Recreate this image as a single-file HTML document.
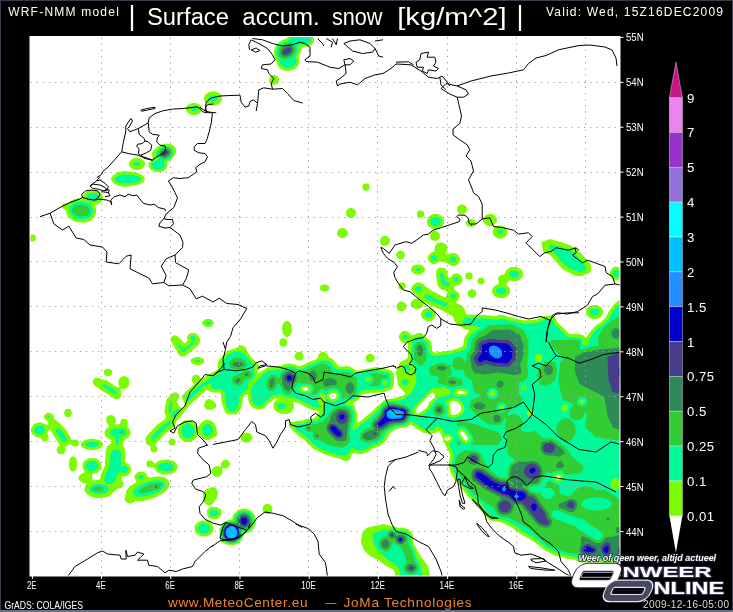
<!DOCTYPE html>
<html><head><meta charset="utf-8"><title>Surface accum. snow</title>
<style>
html,body{margin:0;padding:0;background:#000;}
body{width:733px;height:612px;overflow:hidden;}
svg{display:block}
text{font-family:"Liberation Sans",sans-serif;fill:#fff}
.ttl{font-size:23px}
.bar{font-size:27px}
.sm{font-size:12px}
.axl{font-size:10.6px}
.cbl{font-size:13.2px;letter-spacing:0.5px}
.org{font-size:13.6px;fill:#f08428}
.grd line{stroke:#a0a0a0;stroke-width:1;stroke-dasharray:1.3 4.85}
.brd path{fill:none;stroke:#000;stroke-width:1;stroke-linejoin:round}
</style></head><body>
<svg width="733" height="612" viewBox="0 0 733 612">
<rect width="733" height="612" fill="#000"/>
<rect x="0.5" y="0.5" width="732" height="611" fill="none" stroke="#3c3c50" stroke-width="1"/>
<rect x="0" y="610" width="733" height="2" fill="#6e6e8c"/>
<clipPath id="mc"><rect x="30" y="36.5" width="590" height="539.5"/></clipPath>
<rect x="30" y="36.5" width="590" height="539.5" fill="#fff"/>
<g clip-path="url(#mc)">
<g id="fills">
<path fill="#7cfc00" fill-rule="evenodd" d="M364.5,530 362,534 361.5,539.5 361,540 361,542.5 364,550 370,556 377.5,559.5 386,566 392.5,569 394.5,571.5 395.5,578.5 397,580 398,580 400,582 403,583 423,583 426,582 426.5,581 428,580 430,580 430.5,579.5 430.5,577 430,576.5 429.5,572 428.5,569.5 428.5,567.5 427,564.5 421.5,557.5 417,550 415,545.5 414,544.5 413,542 413,540 413.5,539.5 413,535.5 411.5,532.5 409,530 405,528 402.5,528 402,527.5 398,528 392.5,526 386.5,525 384,524 367.5,527.5ZM199,521.5 196,524 194.5,527 195,531.5 197,534 200,536 206,536.5 209,535.5 212.5,532.5 213.5,530 213.5,527 211.5,523.5 209,521.5 206,520.5 202,520.5ZM251,510.5 245,508.5 240.5,509 237.5,510.5 234,514 232.5,517 232.5,518.5 231.5,519.5 228.5,520 225,521.5 221,525.5 219.5,529 219.5,538 220,538.5 220,540 222,543 228,545 234.5,545 238,543.5 242,539.5 244.5,533.5 249,532.5 251,531.5 253,529.5 255.5,525 256,519.5 255.5,519 255.5,517 254,514ZM210,507 208,509 207,511 207,515 208.5,517.5 211,519 217,519 219,518 221.5,514.5 221.5,511.5 220.5,509.5 217,507 212,507 211.5,506.5ZM266.5,504 265,504.5 263,506.5 262.5,510 263,511.5 265,513.5 268.5,514 272,511.5 272.5,508 272,506.5 270.5,505 268.5,504ZM215,487.5 212.5,487 206,489.5 203.5,493.5 203,495 203.5,501 204.5,503 208,505.5 210.5,505.5 213.5,503 214,501.5 216.5,499 217.5,497 218,492.5 216.5,489ZM169,481 166.5,478.5 163.5,477 161.5,477 161,476.5 155,476.5 154.5,477 148.5,477.5 147.5,476.5 146.5,474 145,472.5 142.5,471.5 138,472 135.5,474 134.5,476 134.5,478 136.5,481.5 136,482.5 130.5,486 127.5,489 126,491.5 125.5,496.5 124.5,498.5 125,501 127.5,503 131,503.5 135.5,501 143,501 143.5,500.5 146,500.5 155.5,497.5 163.5,493 168,488.5 169.5,485ZM228.5,460.5 225.5,459.5 223,460.5 221,463.5 221,466.5 220.5,467 218,466 216.5,466 214,467 212.5,468.5 211.5,471 211.5,472.5 212.5,474.5 214,476 216.5,477 218,477 220,476 222.5,472.5 222,468.5 222.5,468 225.5,468.5 229,467 230,463.5ZM177.5,468.5 177.5,465.5 176,463 172.5,460.5 169,460 168.5,459.5 161,460 157,462 155.5,463.5 154.5,463.5 153,461.5 151.5,460.5 148.5,460.5 147.5,461 146.5,462.5 146.5,465.5 147.5,467 148.5,467.5 153.5,467 157,472 162.5,474.5 168.5,474.5 169,474 172.5,473.5 175,472ZM72,456.5 70.5,457.5 69.5,459.5 69.5,461 69,461.5 69,466.5 70.5,470.5 72,471.5 74,471.5 75.5,470.5 76.5,468.5 76.5,467 77,466.5 77,461.5 75.5,457.5 74,456.5ZM81,443.5 81,445.5 82.5,447.5 86.5,449.5 88.5,449.5 89,450 95,450 95.5,449.5 97.5,449.5 101.5,447.5 103,445.5 103,443.5 101.5,441.5 99,440 95.5,439.5 95,439 89,439 88.5,439.5 86.5,439.5 85,440.5 84,440.5 82,442ZM171.5,438.5 169,440 168.5,441 168.5,443.5 170,445 172.5,445.5 174,445 175.5,443.5 175.5,441 174,439ZM242.5,433.5 241.5,434.5 240.5,437 241,439.5 242.5,441.5 245,442.5 248,442.5 249.5,442 252,439.5 252.5,438 252,435.5 249.5,433 245,432.5ZM178,428.5 178,433.5 180,438 183.5,441 186.5,442 189.5,442 193,440.5 196,438 197,435.5 198,434.5 199,434.5 200.5,436.5 203.5,439 205.5,440 209,440 215.5,436.5 217,435 217.5,433.5 216.5,430 216.5,428 214.5,423.5 212.5,421.5 209,420 205.5,420 203.5,421 200.5,423.5 198.5,426.5 197.5,426.5 194.5,422.5 189.5,420 184.5,420.5 180.5,423.5ZM112,415 108.5,415.5 106.5,417.5 106,419 106.5,422.5 109.5,426 106,429 104.5,432 104.5,434 105.5,436.5 111,440 112,441 112,442 107.5,446 106,449 106,451 105.5,451.5 105.5,459 105,459.5 105,465.5 101.5,473 100,479 99,480 95.5,480 95,480.5 93.5,480.5 92.5,479.5 92,475 93,474 97,473 101,469.5 101.5,468 101.5,464.5 100,461.5 97,459 94,458 88,458.5 84,461.5 82.5,464.5 82.5,467.5 83.5,470 84.5,471 84.5,472.5 80.5,474.5 79,476 78.5,477.5 79,480 80.5,481.5 83.5,483 85,483 86,484 86,485 84.5,488 84.5,490 85.5,492.5 88,495 92,497 95.5,498 102.5,498 103,497.5 107,497 111,495 113.5,492 117.5,488.5 119.5,488.5 122,487.5 123.5,484.5 123,482 121.5,479.5 122,477.5 123,476.5 125.5,476.5 128,475.5 129.5,474 131,471 131,468 129.5,465 125,461.5 125,460 125.5,459.5 125.5,452 125,451.5 124.5,448 123,445.5 123,441 129,437 130.5,434 130.5,431.5 129,428.5 127.5,427 127.5,424.5 128,424 127,420 125.5,419 122.5,419 121,420 120,423.5 119,424.5 116,424.5 115,423.5 116,421.5 115.5,417.5ZM31,428.5 31,431.5 32,434 36,437 40.5,438 42,440 43.5,441 46.5,441 48,440 48.5,439 48.5,436 47.5,434.5 47.5,432.5 48,431 49,430 50,430 52,432 53.5,435.5 60,445 57.5,447.5 56.5,450 57.5,453 59,454 60.5,454 61,454.5 64,453.5 65.5,450.5 65,447 69,444.5 70.5,444 73.5,446.5 76.5,446.5 77.5,446 79,444 79,442.5 77.5,440 76.5,439.5 71.5,440 71,439.5 70,436.5 68.5,434.5 67,431 61.5,425 56.5,420.5 54,419 54,416 53.5,415 50.5,413 47.5,413 45.5,414 44,416 44.5,419 48.5,422 48.5,423 47,425 41.5,422.5 38,422.5 37.5,423 36,423 33.5,424.5ZM66.5,409 65.5,409.5 64,412.5 65,416 66.5,417 69.5,417 70.5,416.5 72,413.5 71,410 69.5,409ZM205.5,401 204,405.5 204.5,407 207,409.5 210,410 215.5,408 216.5,405.5 215.5,403 214,401.5 209.5,399 207,399.5ZM129.5,381 128.5,378.5 126,376.5 123.5,376 121,377 119.5,378.5 118.5,381 118.5,384 119.5,386.5 119,387.5 118,387.5 115,386 106,380 102,379.5 99.5,378 95.5,378 94.5,378.5 93,380.5 93,383.5 95.5,386.5 98,387.5 100,389.5 110,395.5 113,398 115,399 118.5,399 119.5,398.5 121,396.5 121,391 120.5,390.5 120.5,389 121,388.5 124.5,389 127,388 129,385.5ZM107.5,368.5 104.5,370 104,371 104,374 105,375.5 108.5,376.5 111.5,375 112,374 112,371 111,369.5ZM191,359.5 191,362.5 192,363.5 195.5,365 199.5,365 203,363.5 204,362.5 204,359.5 203,358.5 199.5,357 195.5,357 192,358.5ZM370,353.5 367.5,354.5 366.5,355.5 365.5,358 366.5,361 370,362.5 373,361.5 374.5,359.5 374.5,356.5 373,354.5ZM299,351.5 296.5,352.5 295.5,353.5 294.5,356.5 295.5,359 297.5,360.5 301,360.5 302.5,359.5 303.5,357.5 303.5,355.5 302,352.5ZM282.5,338 280,339.5 279.5,340.5 279.5,344 280,345 282,346.5 285,346.5 286,346 287,344.5 287,341 285,338.5ZM196,333.5 195,333 191,333 189,334 187,337 187.5,340.5 187,341.5 185,343 184,343 181.5,340 176.5,335.5 173.5,335.5 171.5,337 171,338 171,341.5 176.5,350.5 177.5,353 180,356 181,356.5 184.5,356.5 194,349 199,344 200,342 200,339 198.5,336ZM287.5,321 286.5,321 284,322.5 282.5,325 282.5,326.5 282,327 282.5,333 285.5,337 287.5,337 289.5,336 291,334 292,331 291.5,325 290,322.5ZM202,322.5 202.5,324.5 206,327 210,327 211.5,326.5 214,323.5 213.5,321.5 211.5,319.5 210,319 206,319 204,320ZM424,309 422.5,310.5 421,313.5 421,316 422.5,318.5 426.5,321 430.5,321 433.5,319.5 436,316 436,313.5 434,310 431,308 426.5,308 425,309ZM589,306.5 587,308.5 586,310.5 586,313.5 587,315.5 589,317.5 592.5,319 596.5,319 600,317.5 602,315.5 603,313.5 603,310.5 602,308.5 600,306.5 596.5,305 592.5,305ZM400.5,301.5 399,302 397,304 396.5,307.5 397,309 399,311 402.5,311.5 406,309 406.5,305.5 406,304 404.5,302.5 402.5,301.5ZM472,289 469.5,290 468.5,291 467.5,293.5 468.5,296.5 472,298 475,297 476.5,294 475.5,290.5ZM319.5,287.5 320,289.5 323,291.5 326,291.5 328,290.5 329.5,288.5 329,286.5 326,284.5 323,284.5 321,285.5ZM399.5,283 398.5,284.5 398.5,287.5 399,288.5 400.5,289.5 403.5,289.5 404.5,289 405.5,287.5 405.5,284.5 405,283.5 403.5,282.5 400.5,282.5ZM480.5,277.5 478,279 477.5,280 477.5,282.5 479,284 481.5,284.5 483,284 484.5,282.5 484.5,280 483,278ZM466.5,273 465,276 466,278.5 467.5,279.5 470.5,279.5 471.5,279 472.5,277.5 472.5,274.5 472,273.5 470.5,272.5 467.5,272.5ZM145.5,438.5 146,443.5 147.5,445 149.5,445.5 150.5,446.5 150.5,450.5 152,452 153.5,452.5 156,452 157.5,450.5 157.5,448 155,444.5 166.5,432.5 172,428.5 175,425.5 176.5,421 182.5,414.5 190,404.5 206.5,390 207.5,390 209.5,391.5 213,392.5 220,392.5 221,393.5 221.5,401.5 224,409.5 225.5,412.5 227,414 228.5,414 229,414.5 236,414.5 238.5,412 241.5,407.5 243,398 246,394.5 247,394.5 248,395.5 248.5,401 250,404.5 253.5,408 256,409 259.5,409.5 260,409 263.5,408.5 264.5,408 269,403 271.5,401.5 274,399 275,398.5 277.5,398.5 278,399 274.5,402 273.5,404 273.5,408 275.5,411 280.5,413.5 286.5,414 290.5,412.5 293.5,409 294,405 293,403 294,402 299.5,403.5 302.5,405.5 313,410.5 315,410.5 318.5,411.5 319,412.5 318,414.5 314.5,418 311.5,419 306,419 303.5,420.5 299.5,420.5 299,421 295.5,421 295,421.5 290.5,422 289,423.5 289,426.5 297.5,435 304.5,440 313.5,449 324,454 336,458 339.5,458.5 344,461 347,461 350,459.5 351,456 352,454.5 354,453 357.5,454 362.5,454 363,453.5 364.5,453.5 368,452 373.5,448 376.5,447.5 380,446 386.5,440 389,434.5 393.5,430.5 397.5,428.5 404.5,427.5 407.5,426.5 409.5,425 411.5,425 423.5,433 425.5,433 426,433.5 433,433.5 433.5,433 435.5,433 437,431.5 439,431 441.5,435 441.5,436 443.5,439.5 444,442 450,454 450,458 449,461 449,467 451,473.5 452,474.5 453,477 467,495.5 471.5,500 478.5,505 480.5,509.5 486,516.5 489.5,520 493,521 500.5,522 511,527 522,535 525.5,536.5 533,541 546.5,551.5 548.5,552 555.5,556 560.5,556.5 568,559 574,559.5 578.5,562 581,562 581.5,562.5 602.5,562.5 603,563 607,563.5 610.5,562.5 621,562.5 621.5,562 623.5,562 627,559.5 628,557 629.5,555.5 631.5,555 633,553.5 633,551.5 633.5,551 633.5,426.5 634,426 634,402.5 636,399 636.5,394 637,393.5 637,350.5 636.5,350 636,345 633.5,341 633.5,299 633,298.5 633,296.5 631.5,295 628.5,295 616,302.5 613,305.5 609,311 606,317 600.5,322.5 596.5,325 591.5,330 586,337.5 582,334.5 579.5,334.5 579,334 569.5,334 568.5,333.5 566.5,331 557.5,322.5 555,317.5 553.5,316 551.5,316 551,315.5 544,316 536,319.5 534,319.5 533.5,320 523.5,320.5 523,320 518.5,319.5 518,319 508.5,317 502.5,315 498.5,315 497,316 492,316 491.5,315.5 487,315.5 486.5,315 467,314.5 465.5,313 465,310 463.5,307.5 460.5,305 458,304 456,302 458.5,299.5 459.5,297.5 459.5,294.5 458.5,292.5 456,291 454,289 454.5,287 456,285.5 458,285.5 461.5,283 462.5,281 462.5,278 461.5,276 458,273.5 455,273.5 453,274.5 450,278 449,278 448,276.5 447.5,273 446,269.5 444.5,268 440,267.5 438.5,268 437,269.5 436,272 436,277 436.5,277.5 437,282.5 438,286 440,288.5 443,290 445.5,290.5 447.5,292 446.5,294.5 446.5,296 445.5,297 444,297 433,291.5 425,286 423,284 420,282.5 417,282.5 414,284 412.5,285.5 411.5,288 411.5,290 412.5,292.5 416,295 418,297 418,298 417,299 415,299 413,300 411,302 410.5,304.5 411,306 413,308 415.5,309 418.5,309 422,307.5 423.5,305 423.5,303.5 424.5,302.5 425.5,302.5 428.5,304.5 435,307.5 436,307.5 452.5,316 453.5,317.5 454,320.5 456.5,324 459,325 463,328.5 466.5,329.5 468.5,329.5 469,330 469,331 464.5,337.5 463,346 460.5,347.5 450.5,350.5 445.5,351 445,351.5 442,351.5 441.5,352 438.5,352 438,352.5 435,352.5 433.5,352 432,350.5 432,346 431.5,345.5 431.5,343 431,342 421.5,333 418,333 413,335 411,335 408.5,332 406.5,331 403.5,331 401.5,332 399,335.5 399,338.5 401.5,342 403.5,343 407.5,343 408,343.5 408,357.5 406.5,359 401,361.5 399.5,363 397,370 396,371.5 396,374 396.5,374.5 396.5,377.5 397,378 398,385.5 405.5,393.5 403.5,395.5 399,397 397.5,397 393.5,398.5 388.5,399 383.5,400.5 371.5,412 359.5,422 358,422.5 357,421.5 357,419.5 357.5,419 357,413.5 355,407.5 352.5,403.5 357.5,400.5 363,394 368.5,393.5 369,393 383,392.5 383.5,392 385.5,392 387.5,390.5 391,389.5 393,387.5 394,384 394,375 393.5,374.5 393.5,373 391,370.5 383.5,368 378.5,367.5 378,367 372,367.5 371.5,368 362.5,369.5 360.5,370.5 356.5,370.5 355,370 350,366.5 347.5,366.5 347,366 345.5,366 345,366.5 340,366.5 338.5,366 332.5,359 329,357.5 327.5,354.5 326,353 324,352 322,352 320.5,352.5 318.5,354.5 318,357.5 316,359.5 309,362 300.5,366 297.5,366 295.5,364.5 291.5,364 291,363.5 285.5,364 285,364.5 283.5,364.5 281,366 276,366 275.5,366.5 273,366.5 272.5,367 270,367 266.5,368 258.5,373.5 257.5,372.5 257.5,371 259.5,368.5 259.5,366 259,365 258,364.5 250.5,356.5 249,353.5 247,351.5 245.5,347 242.5,345.5 240.5,345.5 235,348.5 228,350.5 220.5,358 218,362 218,369 217,370 206.5,375.5 204.5,377.5 201.5,379 200,377.5 199.5,376 198,375 196.5,375 196,374.5 193.5,375.5 192.5,376.5 191.5,379.5 192.5,382 194,383.5 194,384.5 186,391.5 181.5,396.5 181.5,398 182.5,399 184.5,403.5 184.5,406.5 183,408 181,408 179,406 178,403.5 177,402.5 177,400.5 179.5,397 178.5,394 176.5,392.5 173.5,392.5 172.5,393 167,398.5 166,401 165.5,405.5 165,406 165,409.5 164.5,410 164.5,413 166,416 165.5,418.5 157,425 148,434.5ZM558,475.5 560.5,477 560.5,478 558.5,479.5 556.5,479 555.5,477.5ZM444.5,438 447,436.5 448.5,436.5 450,437.5 450.5,439 448.5,440.5 446.5,440.5 444.5,439.5ZM461.5,431 464,432.5 467.5,437.5 468,439.5 466.5,441 464,439.5 460.5,434.5 460,432.5ZM452,401 456.5,401.5 458.5,402.5 460.5,405 461.5,407.5 461,410.5 458.5,413.5 454,415 452,415 450.5,413.5 450.5,406.5 449.5,403ZM329.5,395 331.5,393 334.5,393 336.5,395 336.5,397 334.5,399 331.5,399 329.5,397ZM433,392.5 434.5,394 435,397 429,402.5 427.5,406.5 424.5,409.5 418.5,413.5 416.5,413 415.5,412 415.5,410.5 419,405.5 431.5,393ZM456.5,392.5 459,391 463,391 465.5,392.5 463,394 459,394ZM302.5,388.5 304.5,387.5 306.5,387.5 308,388 308.5,389.5 306.5,390.5 304,390.5 302.5,389.5ZM520,268.5 516.5,267 511.5,267 510,267.5 506,270.5 505,273 503.5,274.5 501,275 499,276.5 498,279 499,283.5 494.5,286 492,289.5 492,292.5 494.5,296 498.5,298 503.5,298 507,296.5 509,294.5 510,292.5 510,289.5 509,287.5 506.5,285 506.5,284 509.5,280.5 511,280.5 511.5,281 516.5,281 520,279.5 522,277.5 523,275.5 523,272.5 522,270.5ZM615,266.5 613,267.5 611,269.5 610,272 610,275 611,277.5 613,279.5 615,280.5 617,280.5 618.5,280 621,277.5 622,275 622,272 621,269.5 618.5,267ZM411.5,267.5 411,269 411.5,271.5 413,273 416,274.5 420,274.5 423,273 424.5,271.5 425,270 424.5,267.5 423,266 420,264.5 416,264.5 413,266ZM400.5,250.5 398,251.5 397,252.5 396,255 397,258 400.5,259.5 403.5,258.5 405,255.5 404,252ZM428,256.5 428,259.5 429,261.5 432.5,264 435.5,264 439.5,261.5 442.5,261.5 443,262 445,262 451.5,266 454.5,266 457.5,264.5 459,263 460,260.5 460,258.5 459,256 457.5,254.5 454.5,253 451.5,253 450,254 447,254.5 446,253.5 446,252.5 447.5,249.5 447,246 445.5,244 442,242.5 439.5,242.5 437,243.5 435,246 434.5,251 433.5,252 430.5,253ZM541.5,242 541.5,245 543.5,252 544.5,253 548,254 550.5,255.5 563,269.5 575.5,276 582,276 586,274 589,273.5 591,270.5 591,266 590,263.5 586,258.5 575,247.5 568,244.5 563,243 561.5,242 556.5,241 552.5,239.5 550.5,239.5 550,239ZM384,236 382.5,236.5 380.5,238.5 380,242 380.5,243.5 382.5,245.5 386,246 389.5,243.5 390,240 389.5,238.5 388,237 386,236ZM31.5,234.5 29.5,236 29,237.5 29.5,240 31.5,241.5 34,241.5 35.5,240 36,238.5 35.5,236 34,234.5ZM434.5,230.5 432.5,231.5 430.5,233.5 430,237 430.5,238.5 432.5,240.5 436.5,241 439.5,238.5 440,235 439.5,233.5 438,232 435.5,230.5ZM341.5,228 339,229 338,230 337,233.5 338,236 339,237 341.5,238 343.5,238 345,237.5 347.5,235 348,232.5 347.5,231 345,228.5ZM496.5,226 494,228 492.5,231 492.5,233 494,236 498,238.5 502,238.5 505,237 507,234.5 507.5,233 507.5,231 505.5,227.5 502,225.5 498,225.5ZM466,221.5 465.5,223 466,224.5 467.5,226 470,227 472,227 474.5,226 476.5,223.5 476,221.5 474.5,220 472,219 468.5,219.5ZM488.5,214 486,215 484,217 483,219 483,221 483.5,222.5 486,225 488.5,226 491.5,226 494,225 496.5,222.5 497,219 496,217 494,215 491.5,214ZM434,214 431,215 428.5,217 427,220 427,223 428,225.5 429.5,227 433,229 436.5,229.5 441,227.5 443,225.5 444,223 444,220 442.5,217 441,215.5 437.5,214ZM418,211 417,212.5 417,215.5 417.5,216.5 419,217.5 422,217.5 423,217 424,215.5 424,212.5 423.5,211.5 422,210.5 419,210.5ZM350,208 348.5,208.5 346.5,210.5 346,214 346.5,215.5 348.5,217.5 352,218 355.5,215.5 356,212 355.5,210.5 354,209 352,208ZM461,204.5 459.5,205 457.5,207 457,210.5 457.5,212 459.5,214 463,214.5 466.5,212 467,208.5 466.5,207 465,205.5 463,204.5ZM100,192 98.5,191 95,190 89,190.5 86,192 84.5,193.5 83,196 83,197 81.5,198.5 76.5,198.5 76,199 74.5,199 71,200.5 68.5,203 63.5,203.5 62,205 62,207 62.5,208 66,211 66.5,213.5 68,216.5 70.5,219 73.5,221 78.5,222.5 85.5,222.5 89,221.5 91,220.5 94,217.5 96,213.5 96,209 95,206 96.5,204.5 100,203 102,201 103,199 103,196ZM363.5,184 362.5,185.5 362.5,188.5 363,189.5 364.5,190.5 367.5,190.5 368.5,190 369.5,188.5 369.5,185.5 369,184.5 367.5,183.5 364.5,183.5ZM111,178.5 111.5,181 115,184 118.5,186 123,186.5 123.5,187 130,186.5 130.5,186 139,184.5 143.5,182 145,179.5 144,176.5 139,173.5 136,172.5 131,172 130.5,171.5 127,171.5 126.5,171 123.5,171 123,171.5 118.5,172 113,175.5ZM130,161 129,163 129,165 130,167 132.5,169 135,170 139,170 142.5,168.5 145,165 145,163 144,161 142.5,159.5 139,158 135,158 132.5,159ZM173,145 170.5,144 167.5,144 167,143.5 163,144 157,147 153,151 152,153 152.5,159 150,161 148.5,163.5 148.5,166.5 151,170 155.5,172 160.5,172 163.5,171 166.5,168.5 167.5,166.5 167.5,162 170,160.5 174,156.5 176,152 175.5,147.5ZM187,106 186,108 186,110 187,112 189.5,114 192,115 196,115 199.5,113.5 202,110 202,108 201,106 199.5,104.5 196,103 192,103 189.5,104ZM205,95 204,97 204,100 205,102 208,104.5 210.5,105.5 215.5,105.5 219,104 221,102 222,100 222,97 221,95 219,93 215.5,91.5 210.5,91.5 208,92.5ZM273,75 271.5,75.5 269.5,77.5 269,81 269.5,82.5 271.5,84.5 275,85 278.5,82.5 279,79 278.5,77.5 277,76 275,75ZM311.5,35 308,33.5 303.5,33 303,32.5 298,32.5 297.5,33 293,33.5 289,35.5 286,39 283.5,39.5 280.5,41 276.5,44.5 275,47 274,50.5 274,55 274.5,55.5 275,59 276.5,61 277,64 278,66 281,69 284.5,70.5 289,71 295,69 298,66 299.5,61.5 298.5,56 300.5,52 301.5,48.5 302.5,47.5 308,46.5 311.5,45 314,42 314,38Z"/>
<path fill="#00fa9a" fill-rule="evenodd" d="M372.5,534 372.5,537.5 373,538 373.5,542.5 374.5,545 377.5,548.5 378.5,550.5 388.5,560.5 395,564 398,566.5 402,579.5 403,580 422.5,580 423.5,579.5 423.5,577.5 421,569 420.5,565 416,557 414.5,551 410.5,543 410.5,536.5 410,535 408,532.5 404.5,530.5 396.5,530.5 394,529 391.5,528.5 391,529 389.5,529 387,530.5 382.5,530ZM198,526.5 197.5,527.5 198,530.5 200,532.5 202,533.5 206,533.5 208,532.5 210.5,529.5 210,526.5 208,524.5 206,523.5 202,523.5 200,524.5ZM250.5,512.5 249,511.5 245.5,510.5 240.5,511 238,512.5 236,514.5 234.5,517 234,519.5 232.5,521 228,521.5 224.5,523.5 223,525 220.5,530 220.5,535 222,539 225.5,542.5 229.5,544 233.5,544 238.5,541.5 241.5,538 242.5,535 242.5,533 244,531.5 249,530.5 251,529 253.5,525 254,519 252.5,515ZM209.5,511.5 209.5,514.5 212,516.5 212.5,516 216.5,516 218.5,514 218.5,512 216.5,510 213,510 212,509.5ZM89,488.5 89.5,490.5 91.5,492.5 95.5,494 102,494 102.5,493.5 104,493.5 106.5,492.5 109,489.5 108.5,487.5 106,485 102.5,484.5 102,484 95.5,484 95,484.5 93.5,484.5 91.5,485.5ZM165,483 163,481 161.5,480.5 153.5,480.5 144.5,483 137,487 133.5,490.5 133,491.5 133,494 136.5,496.5 144,496.5 144.5,496 147,496 149,495 150.5,495 159.5,491.5 163.5,488 165,485.5ZM138.5,476 138.5,478 140,479 142,479 143.5,478 143.5,476 142,475 140,475ZM158,466 158.5,469 162,471 164,471 164.5,471.5 170,471 173.5,469 174,468 173.5,465 170,463 168.5,463 168,462.5 162,463 158.5,465ZM86,464 85.5,465 86,468 88,470 90,471 94,471 96,470 98.5,467 98,464 96,462 94,461 90,461 88,462ZM118,449.5 113,450 111.5,451.5 110.5,454 109.5,466 104.5,476.5 104.5,481 106,483.5 107,484 111,484 112.5,483.5 114.5,481.5 118.5,472.5 120,471 121,471 122,472.5 125,473.5 126,473 128,470.5 128,468.5 126,466 125,465.5 121.5,466 121,465.5 121.5,454.5 120.5,451.5ZM84.5,444.5 85,445.5 89,447 95.5,447 99,445.5 99.5,444.5 99,443.5 95.5,442 89,442 86,443ZM57,428.5 56,429.5 56,432 62,441 63.5,442 65.5,442 66.5,441 66.5,438.5 60.5,429.5 59,428.5ZM124,428.5 122.5,428.5 122,428 120.5,428.5 115,428.5 112,429.5 110.5,430.5 110,431.5 110.5,434.5 115.5,437 116,438 116,443.5 116.5,444.5 117.5,445 118.5,444.5 119,443.5 119,438 121.5,436 124.5,435.5 126.5,433 126,430.5ZM34.5,428 34,429 34.5,432 38,434.5 42.5,434 44,433 45,431 44.5,428 42.5,426 41,425.5 38,425.5ZM206,424 203,426.5 202,430.5 203,433.5 205,435.5 206,436 209,436 212,433.5 213,429.5 212,426.5 210,424.5 209,424ZM187,423.5 184,425 181.5,429 181.5,433 184,437 187,438.5 189,438.5 193,436 194.5,433 194.5,429 193.5,427 191,424.5 189,423.5ZM171.5,422 170.5,421 169,421 159.5,428 152,436 151.5,438.5 152.5,439.5 155,439 164.5,429 171,424ZM48.5,416 47.5,417 48.5,418 49.5,418 50.5,417 49.5,416ZM177,409 172.5,412.5 171,415 171,417 172,418 174.5,417.5 179,412.5 179.5,411ZM277.5,405 277.5,407 279,408.5 280.5,409 284,408.5 285,408 285.5,407 285,404 282.5,403 279,403.5ZM171,402 170,402.5 169,405.5 168.5,411 169.5,412.5 171,412.5 171.5,412 171.5,409.5 172,409 172.5,403.5 172,402.5ZM103,384 102.5,385.5 103.5,387 113.5,393.5 116.5,394 117,392.5 116,391 106,384.5ZM403,379.5 401.5,382 402.5,384.5 403.5,385 406.5,385 407.5,384.5 408.5,382.5 407.5,379.5 406.5,379 404,379ZM404,365.5 403,367 403,370 403.5,371 405,372 408,372 409,371.5 410,370 410,367 409.5,366 408,365 405,365ZM195,361 196,362 199,362 200,361 199,360 196,360ZM252.5,363 248,359 246.5,356 244.5,354 239.5,351.5 235.5,351.5 229,354 224,359 221.5,362.5 221.5,367 222,368.5 220.5,372 219,373.5 209,378.5 207,380.5 196.5,387.5 186.5,396.5 186,397.5 186,400 187,401 188,401 203,387.5 206.5,385.5 208,384 210,383.5 211,385 211,387.5 212,388.5 215,389.5 221.5,389 224,391.5 224.5,392.5 224.5,397 225,397.5 225,402 228,410 229.5,411 234,411.5 236.5,409 238.5,405.5 239,399.5 240,396 244,391.5 248,389.5 247.5,383 249,381.5 250,381.5 252.5,380 254.5,377 254,367ZM194,336 191.5,336 190.5,337 190.5,339 192.5,341.5 188,346 184,349 183,349 181,347 178.5,343 177,343.5 178.5,346.5 182.5,352 184,352 193,344.5 193.5,343.5 193.5,341 195.5,339 195.5,337ZM404.5,334.5 403,335.5 402.5,337.5 403.5,339 405.5,339.5 407,338.5 407.5,336.5 406.5,335ZM205,323 206.5,324.5 209.5,324.5 210.5,324 211,323 210.5,322 209.5,321.5 206.5,321.5ZM424.5,314.5 425.5,316.5 427,317.5 430,317.5 431.5,316.5 432.5,314.5 431.5,312.5 430,311.5 427,311.5 425.5,312.5ZM589.5,311.5 590,313.5 591.5,315 593,315.5 597.5,315 599.5,312.5 599,310.5 597.5,309 596,308.5 593,308.5 591.5,309ZM630,551 630,429.5 630.5,429 630.5,423.5 631,423 631,401 633,398.5 633,397 633.5,396.5 633.5,391 634,390.5 634,353.5 633.5,353 633.5,347.5 633,347 633,345.5 630,341.5 630,299.5 629.5,299 626.5,300 616.5,306.5 611.5,313.5 609,318.5 601.5,326 597.5,328.5 592.5,334 590.5,337 588.5,343.5 586,345.5 583.5,345.5 583,345 582.5,339 581,337.5 578,337.5 577.5,337 567,337 562.5,331.5 554.5,324.5 552.5,320 551,319 546,319 536.5,323 524,324 523.5,323.5 521.5,323.5 521,323 519,323 518.5,322.5 516.5,322.5 516,322 508.5,320.5 502.5,318.5 500.5,318.5 499.5,319.5 493,319.5 492.5,319 488,319 487.5,318.5 466,318 464.5,318.5 462.5,320.5 462.5,323 464.5,325.5 466,326 475.5,326 476,326.5 478,326.5 479.5,327.5 478.5,329 471.5,334 468.5,338 466.5,348 464,350 461,350.5 456,352.5 454.5,352.5 450.5,354 441.5,355 441,355.5 434.5,356 430,354 429,352.5 429,347.5 428.5,347 428.5,344 428,343 420.5,336.5 416.5,337 414.5,338 414,340.5 411.5,344 411.5,347 411,347.5 411,359 412,362 415,365.5 415,368 414.5,368.5 414,372 416.5,378.5 416.5,381.5 413,390 409,395 406,398 404,399 397,401 389,401 383.5,403 381,405.5 379.5,408.5 372,416 354,430.5 352.5,429.5 353,424.5 354.5,421 354.5,414 354,413.5 354,412 352,407.5 350,405.5 345,404 344,402.5 345,401.5 346.5,401.5 355,398.5 358,395.5 359.5,392 360.5,391 365.5,390.5 366,390 369,390 369.5,389.5 383,389 384.5,388 389,387 390.5,385.5 390.5,378.5 391,378 390.5,377.5 390.5,374.5 390,373.5 388,372.5 379.5,371 379,370.5 372.5,370.5 372,371 363,372.5 360.5,374 356.5,374 353.5,373 351,370.5 349,369.5 338,369.5 336,368.5 333.5,366 332.5,364 329,361 327.5,360.5 321,360.5 300,369.5 298,369.5 295.5,367.5 293,366.5 286,366.5 283.5,367.5 281,369.5 275,369.5 274.5,370 268,371 263.5,374 254,383.5 250.5,389 250.5,391 251.5,394 251.5,399.5 252,401 254.5,404.5 258,406 260.5,406 263.5,404.5 266,401 269,399 272.5,395.5 273.5,395 276,395 276.5,394.5 280.5,394.5 281,395 282.5,395 286.5,397.5 290.5,397.5 292.5,396.5 294,397 295.5,398.5 300,400 305,403 315,407.5 319,407.5 320.5,408 322.5,407 324.5,407 325.5,408.5 324,412 320,417.5 317,420.5 314,421.5 307,421.5 303,424 295,424.5 293.5,425 293.5,426.5 298.5,431.5 305,436 316,446.5 325.5,451 337.5,455 346.5,456 349.5,452.5 351.5,447.5 357,450.5 363,450.5 368,448 370,446 377,444 381,441.5 384,438 385.5,433.5 389.5,430 396.5,426.5 399,426.5 399.5,426 402,426 405.5,425 407.5,424 410.5,421 412.5,421.5 424,429.5 425.5,430 433.5,430 435.5,427.5 438.5,425 443,430 444,433 445,434 450.5,434.5 453,437 453,440 450.5,442.5 449,443 449,444.5 453.5,453.5 453.5,457 452,461.5 452,466.5 452.5,467 453,470.5 454.5,473.5 468.5,492.5 474.5,498.5 480,502 482,504 482.5,506 484,508.5 490.5,516.5 492.5,517.5 497.5,518 499.5,519 504.5,520 513.5,524.5 524.5,532.5 534,537.5 537.5,540 544.5,546.5 549.5,549.5 552,550 556,552.5 560,553 566,555.5 571,556 571.5,556.5 574.5,556.5 579.5,559.5 583,559.5 583.5,560 601.5,560 604,561 609,561 611.5,560 622,560 625.5,557.5 627,554.5 627,553.5ZM614.5,478 617.5,478.5 620,481 620.5,482.5 620.5,484.5 619.5,487.5 618.5,489 617,490 614,489.5 611,486 610.5,484.5 611,481ZM553,476.5 554,475 556,473.5 560.5,473.5 563,476.5 563,479 562.5,480 560.5,481.5 556,481.5 553,479ZM459.5,429 462.5,428.5 465,430 469.5,436 470.5,438 470.5,440.5 468.5,443 465.5,443.5 463,442 458.5,436 457.5,434 457.5,431.5ZM527,411.5 529.5,409.5 532,409.5 533.5,410.5 534.5,413.5 533,416 532,416.5 529,416.5 527.5,415.5 526.5,413.5ZM501,405 502.5,405 504,406.5 504,408.5 502.5,410 500.5,410 499,408.5 499.5,406ZM563.5,404.5 566.5,404.5 568,406 568,408 566,411.5 563.5,411.5 562.5,411 561,408.5 561.5,406.5ZM582,399.5 584.5,401 584.5,402 582.5,403.5 580.5,403 579.5,401.5ZM452.5,398 457,398.5 460,400 463,403.5 464.5,408 464,411 463,413 460,416 454,418 450,417.5 447,415.5 446.5,414.5 447.5,412.5 447.5,407 445.5,403 445.5,401.5 447,400 450,398.5 452,398.5ZM321,392.5 323,392.5 325,394.5 326,396.5 326,401.5 325.5,402 325.5,403.5 323,407 321.5,407 319,404.5 318,401.5 318,397.5 319.5,394ZM491.5,390.5 493.5,390.5 495.5,392.5 495.5,394.5 493.5,396.5 491.5,396.5 489.5,394.5 489.5,392.5ZM331,390.5 335,390.5 336,391 339,394.5 339,397.5 338,399.5 335.5,401.5 334,401.5 333.5,402 331,401.5 329,400.5 326.5,397.5 327,394ZM453.5,391 455,389.5 458.5,388.5 464,388.5 467,389.5 468.5,391 468.5,394 466,396 458.5,396.5 458,396 456,396 453.5,394ZM450,390.5 450.5,392.5 448.5,395 445.5,396.5 439,397 438,398.5 431.5,404.5 430.5,407.5 426,412 419.5,416.5 416.5,416.5 413,414 412.5,410 415,406 431.5,389 437,387 443,387 446.5,388ZM299,389 301.5,386 303,385.5 308,385.5 309.5,386 311.5,388 311.5,390 309.5,392 308,392.5 302.5,392.5 300.5,391.5ZM525,385 526,386 526,387.5 524.5,390 522.5,390.5 522,390 522,386 523,385ZM382.5,382.5 384,381 386,380.5 388.5,382.5 388.5,384 386.5,385.5 385,385.5 382.5,383.5ZM367.5,377 369.5,377.5 371,379 371,380 368.5,382 366.5,381.5 365,380 365,379ZM536,354.5 537,354 540,354 542,355.5 542.5,356.5 542.5,359.5 541,361.5 540,362 537,362 535,360.5 534.5,359.5 534.5,356.5ZM424.5,295.5 424.5,296.5 426,298.5 432.5,302 435,302.5 444,306.5 446.5,306.5 447.5,305.5 447,303.5 445.5,302.5 437,299.5 428,294.5 425.5,294.5ZM450.5,294.5 450,296.5 450.5,297.5 452,298.5 455,298 456,296.5 456,295.5 455,294 452,293.5ZM496,290 496,292 497.5,293.5 500,294.5 503.5,294 506,292 506,290 504.5,288.5 502,287.5 498.5,288ZM417.5,286 415.5,287.5 415,289.5 416.5,291.5 419.5,292 421.5,290.5 422,288.5 420.5,286.5ZM456,277 454.5,278 454,280 455,281.5 457,282 458.5,281 459,279 458,277.5ZM441,272.5 440,273.5 440,277.5 440.5,278 441,282.5 442,284.5 444.5,286 446.5,286 447,286.5 449,286 450,285 449.5,283 446.5,282 445,280.5 444,277 444,275 443,273ZM509,273 509,275 510.5,276.5 513,277.5 516.5,277 519,275 519,273 517.5,271.5 515,270.5 511.5,271ZM616,269.5 614.5,270 613,272.5 613,274.5 614,276.5 616,277.5 617.5,277 619,274.5 619,272.5 618,270.5ZM415.5,269 415.5,270 417,271 419,271 420.5,270 420.5,269 419,268 417,268ZM452,256.5 450,258 449.5,260 451,262 454,262.5 456,261 456.5,259 455,257ZM433,255 431,257 431,259 433,261 435,261 437,259 437,257 435,255ZM549,245 549,247 550,249.5 552,251.5 554,252.5 557.5,256 560.5,261 570,269 575,270.5 578,272 581.5,272 586.5,269 586,267 583.5,263.5 572.5,251.5 560.5,246.5 552,245 551.5,244.5 549.5,244.5ZM497,231 497,233 499,234.5 501,234.5 503,233 503,231 501,229.5 499,229.5ZM430.5,219.5 430,220.5 430.5,223.5 434,226 438.5,225.5 440,224.5 441,222.5 440.5,219.5 438.5,217.5 437,217 434,217ZM69,208 69,211 70.5,214.5 73,217 79.5,219.5 84.5,219.5 89,218 91.5,215.5 93,212.5 93,210 91.5,206.5 88.5,203.5 82.5,201.5 77.5,201.5 73,203ZM86.5,196.5 86.5,199 88.5,201 91.5,202 96,201.5 99.5,199 99.5,196.5 98,194.5 94,193 90,193.5 88,194.5ZM114.5,178.5 114.5,179.5 116,181 120.5,183.5 130,183.5 130.5,183 135.5,182.5 139.5,181 141,180 141.5,179 141,178 138.5,176.5 135.5,175.5 133.5,175.5 133,175 130.5,175 130,174.5 120.5,174.5ZM133.5,163.5 133.5,164.5 135.5,166 138.5,166 140.5,164.5 140.5,163.5 138.5,162 135.5,162ZM170,146.5 167,145.5 161.5,146.5 157.5,150.5 156,153.5 156,155.5 158.5,158.5 158.5,159.5 152,162.5 151,164 151,166 152.5,168 155.5,169.5 160.5,169.5 164,167.5 165,166 165,164 163.5,161.5 169,159 172.5,155.5 173,154 173,150ZM190.5,108.5 190.5,109.5 192.5,111 195.5,111 197.5,109.5 197.5,108.5 195.5,107 192.5,107ZM208,98 208,99 211,101.5 215,101.5 217,100.5 218,99 217.5,97 215,95.5 211,95.5ZM310.5,38 308,36.5 306.5,36.5 304,35.5 297,35.5 291.5,37.5 290,38.5 288,41 284.5,41.5 281.5,43 277.5,47 276,52 276.5,56 279,59.5 280,63.5 281,65 283.5,67 286.5,68 289.5,68 293.5,66.5 295,65 296.5,62 296.5,60 295.5,58 295.5,56.5 298,51 298.5,45.5 300,44.5 304,44.5 309,43 311,41.5 311.5,40Z"/>
<path fill="#32cd32" fill-rule="evenodd" d="M389.5,531 387.5,533 387,535 385.5,536.5 383,537 381.5,538 380,540 379,543 379,545 380,548 383.5,551 385,551.5 388,551 389.5,550 391,548 392,543.5 393,542.5 394.5,542.5 397,545 399.5,546 402,549 404.5,554 405.5,558.5 406.5,560.5 406.5,562.5 404,565.5 404,567 403.5,567.5 404,570.5 405.5,572.5 408,574 412,574.5 415,573.5 416.5,572.5 418,570.5 418,566 414.5,561 414.5,559.5 413,556 413,554.5 411.5,550 408,544 407.5,542.5 408,541.5 408,537 407.5,536 405,533.5 403.5,533 401.5,533 401,532.5 400,533 396.5,533 393.5,530.5 390.5,530.5ZM249,513.5 244.5,512 241.5,512.5 239.5,513.5 237,516 236,518 235.5,521 234.5,522 229.5,522 225.5,524 223.5,526 221.5,530 221.5,535 223,538.5 226,541.5 229.5,543 233.5,543 236,542 240,538.5 241.5,535 241.5,531.5 242.5,530 244.5,530 248,529 250,527.5 252,524 252.5,520 251,516ZM92.5,488.5 92.5,489.5 93.5,490.5 96.5,491.5 100,491.5 102.5,490.5 103.5,489.5 103.5,488.5 102.5,487.5 100,486.5 94.5,487ZM162,484 160.5,483 155.5,483 155,483.5 153,483.5 148,485 141,488.5 139,490.5 139,492 140,493 145.5,493 146,492.5 150,492 153.5,490.5 158,490 162,485.5ZM457.5,440 457,440.5 457,444 458,445 460.5,445 461,443.5 459.5,441.5ZM123.5,431.5 121.5,430.5 120.5,431 119.5,432.5 121,433.5 122,433.5 123.5,432.5ZM457,421 457,426 457.5,426.5 463.5,426 465.5,427 468.5,430 472,435 473,437.5 473,441.5 471.5,444.5 472.5,445 498,445 499.5,443.5 501.5,439.5 501.5,437.5 499.5,433.5 497.5,431.5 494.5,431 491,429.5 489.5,429.5 483.5,427.5 482,426.5 474.5,424 473,424 469.5,422.5 461,421 460.5,420.5 457.5,420.5ZM564.5,418.5 561,420 558.5,422.5 556.5,427 556.5,432 558.5,436.5 561,439.5 564.5,441.5 568,441.5 570.5,440.5 574,437 575.5,433.5 575.5,427 573.5,422.5 570.5,419.5 567.5,418.5ZM350.5,410 349,408 346.5,407.5 345,406.5 342.5,406.5 341.5,406 341,406.5 337,407 333,409.5 330,412.5 328,416 322.5,422 314,424.5 307.5,424 306,425 305,426.5 305,429.5 305.5,430.5 307.5,432 311,432 312,431.5 313.5,433 313,434 313,437.5 313.5,438.5 315.5,440 320.5,440.5 330,445.5 339,447 339.5,447.5 343.5,447.5 348.5,443.5 350,441.5 349.5,431 350,430.5 350.5,424 352,421 352,414 350.5,411ZM437,403.5 434.5,405.5 433.5,407.5 433.5,409 433,409.5 434,413.5 436.5,415.5 438,415.5 438.5,416 442.5,415 444.5,412.5 444.5,411 445,410.5 444.5,407.5 442,404 441,403.5ZM409.5,408.5 406,405.5 402.5,404.5 400.5,404.5 400,404 398,404 395.5,403 393.5,403 393,402.5 389,403 385,404.5 381.5,408 378.5,414.5 372,421 371,423 370.5,427 369,428 365.5,429 360.5,433.5 360,435 360,438.5 360.5,439.5 363.5,442 367.5,442.5 368,443 375,441.5 378,440 381,437 382.5,433 388,428.5 395,425 401.5,424.5 406,423 408.5,420 410.5,415 410.5,410.5ZM363.5,383.5 364.5,384.5 365.5,384.5 364.5,383.5ZM388,376.5 386,375 377,373.5 376.5,373 371,374 370.5,375 371.5,375.5 373.5,378 373.5,381 372,383 369.5,384.5 368.5,384.5 368.5,385 371.5,386 373.5,386 374,386.5 379,386 380,385.5 380,381.5 380.5,380.5 383,378.5 387.5,378ZM357.5,383.5 357,383 357,379.5 356,377.5 352,375.5 349.5,373 347.5,372 334,373 332,371 331,368 329,366 324,363.5 321.5,363.5 313.5,367 312.5,367 310,368.5 309,368.5 306.5,370 305.5,370 303,371.5 302,371.5 299.5,373 298,373 295.5,370.5 292.5,369 286.5,369 285,369.5 280.5,373.5 279.5,377.5 278.5,378.5 275.5,375 271.5,375 270.5,375.5 268,378 267,380 266,385 266.5,385.5 266.5,387.5 268.5,390.5 269.5,391 272.5,391 276,388 276.5,386 278.5,383 279.5,384 282,390 284.5,392.5 287.5,394.5 289.5,394.5 291.5,393 295,387.5 296,385 298,383 299.5,383 300,383.5 309,383.5 311.5,384.5 314,387.5 314,390.5 311,394 311.5,395 314.5,395 315.5,394.5 316.5,393 320.5,389.5 323.5,389.5 325,390.5 326.5,390.5 330.5,388 336,388 338,389 340.5,391.5 341.5,393.5 341.5,398 343,399 352,396.5 355,394.5 356.5,391.5ZM429.5,367 429,369 429.5,369.5 429.5,373 430.5,375 433.5,376 435.5,376 438.5,377 439.5,378 438,380 438,383 439,384 442,384 442.5,384.5 447,385 451,387.5 453.5,387.5 457,386 461.5,385.5 462.5,384.5 462.5,380.5 461,379 459,379 453.5,376.5 451,376.5 449.5,377.5 447.5,377.5 447,377 448,376 451,375.5 451.5,374.5 451.5,370.5 451,370 451,367 451.5,366 450.5,365 447.5,364.5 444.5,363 441,362.5 440.5,363 437,363.5 434,365.5ZM554,362 546,361.5 545,362 539.5,368 537,375 539,382 540.5,384.5 544,385.5 548,385.5 554.5,380.5 555.5,378.5 555.5,376.5 557,372 557,369 556,367 555.5,363.5ZM235,357.5 229.5,361.5 229,364.5 230,367 231.5,368.5 234,369.5 236.5,369.5 237,370 243.5,369.5 244,370 242,372.5 233,377 232,378.5 232,381.5 232.5,382.5 235,385 238.5,386 241,385 242.5,383.5 243.5,381 245.5,379 250,378 251.5,376 251.5,373 251,372 249,370.5 244.5,370 244,369.5 246.5,366 246.5,363 244.5,360.5 240,358ZM418.5,342 416.5,343 414,346 414,359.5 420,366 421.5,366 425.5,361.5 426.5,359.5 426,346 423.5,343 421.5,342ZM489,325.5 483.5,329.5 479,332 472,339.5 471,343 471,347.5 470,350 468.5,351.5 467,354.5 466.5,361 465,362 463.5,359.5 461,357 457.5,356.5 455.5,357.5 453.5,359.5 452.5,362 452.5,364.5 452,365 453,367 455.5,369.5 457.5,370.5 459.5,370.5 461.5,369.5 463,369.5 464,370.5 465,376.5 470.5,379 472,380.5 474,391.5 475,392.5 479,394 480.5,395.5 480,396.5 473,399.5 471.5,401 469.5,405.5 470,408 477.5,416 482.5,420.5 490.5,425 492,424.5 499,425 501,424 503,422 504,419 505.5,417.5 506.5,418.5 505,428 506,431 507,446.5 507.5,447 507.5,452 508,452.5 508,454.5 510,456.5 513,458 514.5,459.5 514.5,460.5 509,465.5 508.5,469 508,469.5 507.5,477 505.5,478.5 505,478 501.5,478 498,476 497,476 491.5,471.5 484,461.5 482,458 482,456.5 481,454.5 478.5,452 474,450.5 465,450.5 460,453 457.5,455.5 455.5,459 455.5,460.5 455,461 455,467 456.5,471 471,491 476,496 493,507.5 494,508.5 496,513 498,515 501.5,517 508.5,517.5 528,528 546,544 549,546 552.5,547.5 555.5,548 557,549 559.5,549.5 561,550.5 568,553 577,554 578,554.5 580,557 582,557 582.5,557.5 588,557.5 588.5,558 590,557.5 601.5,557.5 604,559 609,559 611.5,557.5 617,557.5 617.5,558 621.5,558 622.5,557.5 625,554 625.5,550 625,549.5 625,548 623.5,545.5 623.5,535.5 622.5,533 623,529.5 622.5,529 622.5,527.5 621,525 621,500.5 619.5,499 605.5,490.5 604,490 596,490 590.5,487 588.5,487 588,486.5 583,486.5 578,488 574,491.5 573.5,493 571,495.5 566,496 560.5,494 559.5,493 559.5,488 559,487.5 559,486 557.5,484.5 554,483.5 550.5,480.5 548,481.5 546.5,483 544.5,488 549.5,488 551,488.5 554.5,491.5 555,493 554.5,495.5 551,498.5 549.5,499 545,498.5 541.5,495.5 541,494.5 541,492 538.5,494 537.5,494 534.5,492 531,491 529,489 528.5,488 529.5,487 533,486.5 533.5,486 536,486 539,485 540.5,483.5 545,474 546.5,472.5 552,473 555,471 561.5,471 563,472 564.5,474 566.5,475 576,474 576.5,473.5 580.5,473 582,471.5 584,466.5 582,464.5 575.5,460 571.5,456 568.5,450.5 558,441.5 553,438.5 551,438.5 550.5,438 545,438.5 543.5,438 540.5,436 535,431 533,431 529.5,432.5 526,432.5 521.5,431 520.5,429.5 523,424.5 523,422.5 520.5,417.5 519.5,416.5 514.5,414 512.5,414 508.5,416 507.5,415.5 508,413 510,410.5 510.5,409 513,406.5 519,404 521,402 522.5,399 522.5,397 520,396 519,395 519,383 520,382 522.5,382 523.5,381.5 525.5,379.5 528.5,374.5 528,369.5 527.5,369 527.5,365.5 527,365 528,354 528.5,353.5 528.5,340.5 524,331 522.5,329.5 512,324.5 501.5,324.5 501,325 490.5,325ZM551.5,512.5 554,510 557.5,510 567,514 569.5,514.5 571,515.5 583.5,519.5 586,521 588,523.5 599,530 602,533 602.5,534 602.5,537 602,538 599.5,540 596,540 578.5,529.5 575.5,526.5 566.5,523.5 564,522 554.5,518.5 552,516 551.5,515ZM581,503.5 584,500 589.5,498 592,498 592.5,497.5 600.5,497.5 601,498 605.5,498.5 609,500 611.5,502.5 612,504.5 609,508 605.5,509.5 601,510 600.5,510.5 592.5,510.5 592,510 589.5,510 584,508 581.5,505.5ZM500,402.5 503.5,402.5 506.5,405.5 506.5,409.5 506,410.5 503.5,412.5 500,412.5 498,411.5 496.5,409.5 496.5,406 497,405ZM490.5,388 494.5,388 496,389 498,391.5 498,395.5 497,397 494.5,399 490.5,399 489,398 487,395.5 487,391.5 488,390ZM624.5,315 623,315 611,321 602,329.5 597.5,339 598.5,342.5 598.5,345 597.5,346 589.5,347 583,349.5 581,349.5 580,348.5 580,341 579,340 551.5,340 550.5,340.5 550.5,342.5 552,347 563.5,359 560,362.5 559.5,370.5 559,371 558.5,383 559,383.5 560,389.5 561,392 561,394 562.5,399 563.5,400 570.5,402.5 573.5,404.5 573.5,405.5 571,408 569.5,411.5 569.5,414 571,417.5 572,418.5 575.5,420 580,419.5 583,417.5 584.5,414.5 584.5,413 586,412 587,413.5 587,415.5 586.5,416 586.5,419 586,419.5 586,422 585.5,422.5 585,426.5 594.5,436.5 597,437.5 599.5,437.5 600,438 602.5,438 603,438.5 605.5,438.5 606,439 608.5,439 609,439.5 611.5,439.5 612,440 614.5,440 615,440.5 617.5,440.5 621,441.5 624.5,441.5 625,441 625,431 627.5,428 627.5,425 628,424.5 628,400 630.5,396.5 630.5,391 631,390.5 631,374 631.5,373.5 630.5,347.5 628,344.5 626.5,344 625,342.5 625,315.5ZM579,398 581.5,397 584.5,397.5 587,400 587,403 586.5,404 584.5,405.5 583,406 579.5,405.5 578,404.5 577,403 577,400.5ZM72,209 72,210.5 73.5,213.5 75.5,215 79.5,216.5 86,216 88,215 90,212 89.5,209 88,207 82,204.5 76,205 74,206ZM168,147.5 166.5,147.5 166,147 163.5,147.5 160,150 158.5,152.5 158.5,155 161,158 164.5,159 167.5,158 170,156 171.5,153.5 171.5,151 171,150ZM293,44 291,43 288,43 287.5,43.5 285.5,43.5 282.5,45 279.5,48 278.5,50.5 278.5,55 279,56 281,58 283,59 286.5,59 291.5,57 294.5,54 295.5,51.5 295.5,47Z"/>
<path fill="#2e8b57" fill-rule="evenodd" d="M409.5,564 407,565.5 406,568.5 407,570.5 408.5,571.5 412.5,572 415,570.5 416,567.5 414.5,565 412.5,564ZM385,539 382,541.5 381.5,545 382,546.5 384,548.5 386,549 389,546.5 389.5,543 388,540ZM621,536.5 620.5,535.5 618.5,535 614,536.5 606.5,537.5 605.5,538 602,542 600,543 596,543 594.5,542.5 584.5,536.5 582,536.5 581,537.5 581,545.5 579.5,548.5 579.5,552 582,555 584,555 584.5,555.5 601.5,555 604.5,557 608.5,557 611.5,555 616.5,555 618,556 621,556 623,553.5 623,548.5 621,545.5ZM389,534 389,536.5 391.5,538.5 395,537.5 396.5,542 399,544 400.5,544 401,544.5 402.5,544 405.5,541 406,538.5 405,536.5 402.5,535 398.5,535 396,536.5 394.5,533 393,532 391,532 390,532.5ZM617.5,527 616.5,527.5 615.5,529.5 615.5,531 617,533 618.5,533.5 620,532 620.5,529.5 619,527ZM607,517.5 606.5,518 606.5,520 607,520.5 609,520.5 609.5,520 609.5,518 609,517.5ZM248,515 246,514 242.5,514 240.5,515 238.5,517 237.5,519 237.5,523 236.5,524 233.5,523 229.5,523 226.5,524.5 224,527 222.5,530 222.5,535 223.5,537.5 226.5,540.5 229.5,542 233.5,542 236.5,540.5 239.5,537.5 240.5,535 240.5,528.5 241.5,527.5 242,528 246,528 248,527 250.5,523 250.5,519ZM558.5,505.5 558.5,507 561,508.5 562,508.5 570,512 573,512 575,510.5 577,507 577,503 575,500 573,499 569,499 566,501 560,503.5ZM157.5,486.5 156,485.5 154.5,486.5 154.5,487.5 155,488 157,488ZM559.5,461 556.5,464.5 556,466.5 557.5,468 562,468 563,467.5 564,466 563.5,464.5 561,461ZM473,470 471.5,472.5 471.5,474.5 471,475 471.5,475.5 471.5,477.5 473,480.5 486,490 499.5,496.5 501,498 501,499 500,499.5 497.5,502.5 496.5,505.5 497.5,510.5 499,512.5 501,514 502.5,514.5 508,514.5 510.5,513 512.5,510.5 513.5,507.5 513.5,505 514,504.5 520.5,504.5 537,524 539,525.5 544.5,527.5 547.5,527.5 549,527 551.5,524.5 552,520.5 549,517 548,513 539.5,501.5 537.5,498 534.5,495 530,493.5 527,490 522,487 522,486.5 523.5,485.5 530,484.5 530.5,484 533,484 533.5,483.5 536,483.5 538,482.5 542.5,474 542.5,470.5 541.5,467 538.5,463 533.5,461 530.5,461 527.5,462 518.5,461.5 513,465 511.5,466.5 510.5,469.5 510.5,473.5 510,474 509.5,480 510,481 512,482 514.5,484.5 514,485.5 513.5,485 512,485 509.5,482 506.5,480.5 501.5,480.5 495,477.5 482.5,468.5 479,468 478.5,467.5 478,468 476,468ZM471,453.5 469.5,454.5 467.5,457 467.5,461 468,462 471,464.5 472.5,464.5 473,465 476,464.5 479,462 479.5,461 479.5,457.5 478,455 475.5,453.5ZM541,443 541,447 540.5,447.5 541,450.5 542.5,453 545.5,455 547,455 547.5,455.5 554.5,455.5 555,456 559,456.5 565,453.5 565,452 560,447 557.5,445.5 554,442 550.5,440.5 545.5,441ZM315.5,435.5 315.5,436.5 316.5,437.5 318.5,437 318.5,435 318,434.5 316.5,434.5ZM308.5,426.5 307.5,427.5 307.5,428.5 308.5,429.5 309.5,429.5 310.5,428.5 310.5,427.5 309.5,426.5ZM494.5,415.5 493.5,417 493.5,420 494,421 495.5,422 498.5,422 499.5,421.5 501,419 500.5,416.5 498.5,415 495.5,415ZM338.5,409 332,414 330.5,417.5 330,421 326.5,426 326.5,430 330,435 337.5,441.5 342,441.5 342.5,441 345,441 346.5,439.5 348,423.5 349.5,420.5 349.5,414.5 348,411 347,410 346,410 344.5,409ZM437.5,406.5 436,408 435.5,411 437,413 440,413.5 441,413 442.5,411 442,408 440.5,406.5ZM408,409.5 405,407 400,406 399.5,405.5 395,405 394.5,404.5 389.5,404.5 387,405.5 382.5,409.5 382,412 380,416 373.5,422.5 373,423.5 373,426.5 374,428 374,429 373,430 368.5,431 364,433.5 362.5,436 363.5,438.5 367,440 370,440 373.5,439 378,436.5 379,435 379,432 380.5,430.5 383.5,429.5 389,425.5 394,423.5 401.5,423 404.5,422 406.5,420 408.5,415.5 408.5,410.5ZM473.5,406 475,408.5 477.5,409.5 481.5,409.5 483,409 485,407.5 485.5,406 484.5,404 481.5,402.5 477.5,402.5 476,403 474,404.5ZM350.5,382 348.5,382.5 347,384 345.5,387 346,390 347,392 348.5,393.5 350,394 351.5,393.5 353,392 354,389.5 353.5,385 353,384ZM503,381.5 501,380.5 498,381.5 496.5,384.5 497,386 498.5,387.5 501.5,387.5 502.5,387 503.5,385.5 503.5,382.5ZM456,382.5 454.5,380 449.5,380.5 448,381.5 448.5,382.5 452.5,384.5 455.5,383.5ZM323,382.5 323.5,385 325.5,386.5 328,386.5 330,385.5 332.5,385.5 333,385 335,385.5 336,385 337,383.5 336.5,381 335,379.5 331.5,378 328.5,378 325,379.5 323.5,381ZM273.5,378 272.5,378 270.5,380 269.5,382 269.5,387 270.5,388 272.5,387.5 274.5,383.5 274.5,379ZM238,378 235.5,380 235.5,382 237.5,383.5 238.5,383.5 240.5,382 240,379ZM244.5,374.5 244.5,375 246,376 247,376 248.5,375 248.5,374 247,373 246,373ZM290.5,371 288.5,371 284.5,373 282.5,375.5 282.5,377.5 282,378 282,382 283.5,386.5 285,389 287.5,391 289,391 293,384.5 296.5,380.5 296.5,378.5 297,378 296.5,377.5 296.5,375.5 295.5,374 293,372ZM313,370.5 311.5,371 310,372.5 309,375 309,377 310,379.5 311.5,381 313.5,381.5 316,379.5 317,377 317,375 316,372.5 314.5,371ZM436.5,368 437.5,370 439.5,370 440,370.5 444,370.5 446.5,369 446.5,367.5 442.5,365.5 439,366ZM548,364 546,365 544.5,367 544,370.5 545,373 546.5,374.5 549,375 550.5,374.5 552,373 553,370.5 553,368.5 552,366 551,365ZM232.5,364 232.5,365 233.5,366 236,367 240,367 242.5,366 243.5,365 243.5,364 242,362.5 240.5,362 236,362 233.5,363ZM576,356.5 575,358 575,372 579.5,383.5 581,385 599.5,394 605,398.5 605,403.5 606,406 607.5,415 609.5,420.5 611.5,424 611.5,425 613.5,428 618.5,429.5 620.5,429.5 621,428 622.5,426.5 624.5,426.5 625,425.5 625,398.5 627.5,395.5 627.5,392.5 628,392 628,379 629,376.5 629,367.5 628,365 628,352 627.5,351.5 627.5,348.5 626,347 622.5,347 622,347.5 618,347.5 617.5,348 613,348 612.5,348.5 599,349.5 598.5,350 596,350 595.5,350.5 593,350.5 592.5,351 585,352ZM419,345 418,346 417,348.5 417,352.5 418,355 419,356 421,356 422,355 423,352.5 423,348.5 422,346 421,345ZM520.5,336 518.5,334 509.5,329.5 494,330 491.5,331 484,336 477.5,339 475,342.5 474.5,350 470.5,356 470.5,361.5 471.5,363.5 471.5,368 474,372 475.5,373.5 482.5,374 483,374.5 486.5,374.5 487,374 490,374 490.5,373.5 496.5,373 497,372.5 500,372.5 500.5,373 503,373 503.5,373.5 506,373.5 506.5,374 509,374 512.5,375 517.5,374.5 521,373.5 521.5,373 521.5,370.5 521,370 520,364.5 523.5,355.5 523.5,344.5 521.5,340ZM615.5,328 614,328.5 612.5,330 611.5,332.5 611.5,334.5 612.5,337 614,338.5 616.5,339 618,338.5 619.5,337 620.5,334.5 620.5,332.5 619.5,330 618,328.5ZM164,149 160.5,152 160,154 161.5,156.5 162.5,157 166,157 169.5,154 170,152 168.5,149.5 167.5,149ZM292.5,46.5 291,45.5 287,45.5 283,47.5 281,50 280.5,51.5 280.5,53.5 281.5,55.5 283,56.5 287.5,56.5 291,54.5 293,52 293.5,50.5 293.5,48.5Z"/>
<path fill="#483d8b" fill-rule="evenodd" d="M409,567.5 409,568.5 410,569.5 412.5,569.5 413,569 413,567 412.5,566.5 410,566.5ZM619,548 617.5,550 617.5,552 619,554 620,554 621,553 621.5,551 621,550.5 621,549 620,548ZM581.5,549 582,552 585,553.5 587.5,553.5 588,554 593,553.5 595.5,552.5 596.5,551.5 596.5,549 595.5,547.5 592.5,546.5 591.5,545.5 588,544 584.5,545ZM607.5,542 606.5,542 602,546 601,548.5 602,552.5 605,555 608,555 610,552.5 611,549.5 610,545 609,543ZM399.5,536.5 398,537.5 397.5,540.5 398.5,542 401.5,542.5 402.5,542 403.5,540.5 403.5,538 401.5,536.5ZM391.5,533.5 390.5,534.5 390.5,535.5 391.5,536.5 392.5,536.5 393.5,535.5 393.5,534.5 392.5,533.5ZM229.5,524 226,526 223.5,530 223.5,535 225,538 227.5,540 229.5,541 233.5,541 237,539 239,536.5 239.5,535 239.5,530 238,527 236.5,525.5 233.5,524ZM243.5,515.5 242,516 239.5,518.5 239,522 239.5,523.5 242,526 244.5,526.5 247.5,525 249,522 249,520 247,516.5ZM568.5,502 567,505 567.5,506.5 570,508.5 572.5,508.5 573.5,508 574.5,506.5 574.5,503.5 574,502.5 572.5,501.5 569.5,501.5ZM504,500.5 500.5,502.5 499,505.5 499,507.5 501,511 504,512.5 506,512.5 509.5,510.5 511,507.5 511,505.5 510,503 508.5,501.5 506,500.5ZM474.5,472 473.5,475.5 475,479 485,486.5 489,489 500,494 502,495.5 505,496 509.5,498 512,501 514,502 522,502.5 539,522.5 541.5,524 545,525 547,525 549,523.5 549,522 546,517.5 545,513 537.5,503 535.5,499.5 532,496.5 529,496.5 528,495.5 527,493 525.5,491.5 523,490 521,490 520.5,489.5 519,490 512.5,488 510.5,487 508.5,484.5 506,482.5 500,482.5 497.5,481 496.5,481 481,470.5 478,470 475.5,471ZM530.5,463.5 527,465 525,467.5 524,470 524,473 525,475 527,477 530,478.5 534,478.5 536.5,477.5 539,475 540,472.5 540,470.5 538.5,467 536,464.5 533.5,463.5ZM473,455.5 470.5,457 470,458 470,460.5 471,461.5 474,462.5 477,460.5 477,458 476,456.5ZM544.5,444.5 543.5,446 543,448.5 543.5,450 546,452.5 550.5,453 552,452.5 554.5,450 555,447.5 554.5,446 552.5,444 550.5,443 547.5,443ZM375.5,432.5 374,433 374,434.5 375,435 376,434.5 376,433ZM330,424.5 328.5,426.5 328.5,429.5 329,430.5 335.5,437 337.5,438 340.5,438 341.5,437.5 343,435.5 343,432.5 342.5,431.5 336,425 334,424 331,424ZM341.5,411 339,412 337.5,413.5 336.5,416 336.5,419 337.5,421.5 339,423 342.5,424 345,423 346,422 347.5,418.5 347.5,416.5 345.5,412.5 344,411.5ZM438.5,409 438,409.5 438,411 440,411 440,409.5ZM406.5,410 403.5,408 397,407 394.5,406 390,406 386,408 384,410 382.5,416 375.5,423.5 375,424.5 375.5,426.5 379,428.5 381,428.5 389.5,423 393,422.5 393.5,422 401,421.5 404,420.5 405,419.5 407,415 407,411ZM291,373.5 288,373.5 287,374 284.5,377 285,380 287.5,382.5 289,382.5 289.5,383 292,382 294.5,379 294,376ZM624,350 618.5,352.5 617.5,352.5 615,354 614,354 611.5,355.5 610.5,355.5 608.5,356.5 607.5,358 608.5,380 610.5,385 611.5,389.5 612.5,391.5 614,392.5 616,392.5 616.5,393 618.5,393 621.5,394 624.5,394 625,393 625,381 627,376 627,373.5 627.5,373 627,367.5 625,363 625,351ZM479,343 478.5,344 478.5,351 474,357.5 474,360 475,361.5 475,362.5 476,364 478.5,366 481,366 485,364 487,364 493.5,366 508,367 509,366.5 515.5,359.5 516,347.5 511.5,342.5 508,340 496,339.5 495.5,339 488.5,339 486.5,340 482,341ZM168,151.5 166.5,150.5 165,150.5 162,153 162,154.5 163.5,155.5 165,155.5 168,153ZM291,48.5 290,47.5 287.5,47.5 284.5,49 283,51 283,53.5 284,54.5 286.5,54.5 290,52.5 291,51Z"/>
<path fill="#0000cd" fill-rule="evenodd" d="M584,549 584,550.5 585,551.5 586.5,551.5 587,552 593,551.5 594,551 594.5,550 593.5,549 591.5,548.5 588.5,546.5 586,546.5ZM607.5,546 606.5,546 603.5,548.5 603.5,550.5 605.5,553 607,553 609,549 608.5,548.5 608.5,547ZM400,538 399,539 399,540 400,541 401,541 402,540 402,539 401,538ZM229.5,525 227,526.5 224.5,530 224.5,535 225.5,537 229.5,540 233.5,540 237.5,537 238.5,535 238.5,530 237,527.5 233.5,525ZM243,517.5 241,519.5 241,522.5 243,524.5 245,524.5 246,524 247,522.5 247,519.5 246,518ZM533,503.5 532,504 531,507 532.5,510.5 535,511 536,510 537,506.5 536.5,505 535,503.5ZM476,474 476.5,477 485.5,484 490,487 498,491 500,491.5 502.5,493.5 506,494 510,495.5 512,498 514.5,500 521.5,500.5 524.5,499 526,496.5 525.5,494.5 523.5,492.5 521,491.5 517,492 510,489 509,489 505.5,484.5 500,485 496.5,483 495.5,483 491,480.5 487.5,477.5 480,472.5 477.5,472.5ZM533.5,467.5 531.5,468 529.5,470 529.5,472 531.5,473.5 533.5,473 535.5,471 535.5,469ZM331,426.5 330.5,429 335.5,434.5 338,436 340.5,435.5 341,433 336,427.5 333.5,426ZM340,415 339.5,416 340,419 341,419.5 344,419 344.5,418 344,415 343,414.5ZM405,410.5 401.5,409 397,408.5 394.5,407.5 390,407.5 385.5,410.5 384.5,416 383.5,418 378,423.5 377.5,425 378.5,426 380.5,426.5 384.5,423.5 389.5,421 391,421 391.5,420.5 397.5,420.5 398,420 401,420 403.5,419 405.5,414.5 405.5,411.5ZM288.5,375.5 287,377 287,379 288.5,380.5 290.5,380.5 292,379 292,377 290.5,375.5ZM621,364.5 620,365.5 618.5,369 618.5,374.5 620,378.5 621,379.5 623,379.5 624,378.5 625,376 625.5,369.5 624,365.5 623,364.5ZM478,358 478,360 479.5,362 481,362 483.5,360.5 486,360 494.5,362.5 506.5,363.5 507.5,363 512,358 512.5,349 510,346 506.5,343.5 489.5,342.5 482.5,345 482,346 482,353Z"/>
<path fill="#1e90ff" fill-rule="evenodd" d="M230,526 226.5,528.5 225.5,530.5 225.5,535 228,538 230,539 233,539 235,538 237,536 237.5,535 237.5,530.5 235,527 233,526ZM517,494.5 516,494.5 514,496 514,497 515,498 516.5,498.5 519,497 519,496ZM503.5,486.5 502.5,487.5 502,489.5 503.5,491.5 504.5,491.5 505.5,490.5 506,488.5 504.5,486.5ZM386.5,412 386.5,416 387,417 390,419 392,419 392.5,419.5 393,419 401,418.5 403,417 404,414.5 404,412 403.5,411.5 399,410 394.5,409.5 394,409 390.5,409ZM490.5,346.5 489,348.5 489,352 490,354.5 494.5,358 498,358.5 500.5,357.5 502,355.5 502,352 501,349.5 497.5,346.5 493,345.5Z"/>
<path fill="#00bfff" fill-rule="evenodd" d="M230.5,527 227.5,529 226.5,531 226.5,534 228.5,537 230.5,538 232.5,538 235.5,536 236.5,534 236.5,531 234.5,528 232.5,527ZM388,412.5 388,415 388.5,416 391,417.5 400,417 401.5,416 402.5,413.5 402,412.5 398.5,411.5 396.5,411.5 396,411 394,411 393.5,410.5 391,410.5Z"/>
</g>
<g class="grd">
<line x1="101.5" y1="37.5" x2="101.5" y2="576"/>
<line x1="170.5" y1="37.5" x2="170.5" y2="576"/>
<line x1="239.5" y1="37.5" x2="239.5" y2="576"/>
<line x1="308.5" y1="37.5" x2="308.5" y2="576"/>
<line x1="377.5" y1="37.5" x2="377.5" y2="576"/>
<line x1="447.5" y1="37.5" x2="447.5" y2="576"/>
<line x1="516.5" y1="37.5" x2="516.5" y2="576"/>
<line x1="585.5" y1="37.5" x2="585.5" y2="576"/>
<line x1="30.5" y1="82.5" x2="620" y2="82.5"/>
<line x1="30.5" y1="127.5" x2="620" y2="127.5"/>
<line x1="30.5" y1="172.5" x2="620" y2="172.5"/>
<line x1="30.5" y1="217.5" x2="620" y2="217.5"/>
<line x1="30.5" y1="261.5" x2="620" y2="261.5"/>
<line x1="30.5" y1="306.5" x2="620" y2="306.5"/>
<line x1="30.5" y1="351.5" x2="620" y2="351.5"/>
<line x1="30.5" y1="396.5" x2="620" y2="396.5"/>
<line x1="30.5" y1="441.5" x2="620" y2="441.5"/>
<line x1="30.5" y1="486.5" x2="620" y2="486.5"/>
<line x1="30.5" y1="531.5" x2="620" y2="531.5"/>
</g>
<g class="brd">
<path d="M96.7,177.7 L101.7,174.3 L102.5,171.8 L108.3,166.8 L115.0,159.3 L121.7,151.8 L123.3,142.7 L125.8,131.0 L125.8,126.0 L130.8,118.5 L132.5,121.0 L129.2,126.8 L127.5,128.5 L130.0,131.8 L138.3,128.5 L145.8,124.3 L148.3,122.7 L149.2,117.7 L155.0,113.5 L163.3,110.7 L173.3,109.0 L183.3,108.5 L190.0,107.7 L196.7,106.8 L200.0,108.5 L202.5,111.8 L206.7,112.7 L205.8,107.7 L206.7,105.2 L210.0,104.3 L213.3,104.0"/>
<path d="M206.7,112.7 L212.5,112.7 L211.3,122.7 L209.2,131.8 L206.7,140.2 L205.0,143.5 L197.5,143.5 L194.2,146.8 L194.2,150.2 L198.3,152.7 L205.0,153.5 L207.5,156.8 L205.0,161.8 L200.0,164.3 L195.8,167.7 L196.7,171.8 L193.3,174.3 L188.3,177.7 L180.0,178.5 L173.3,177.7 L168.3,181.0 L171.7,186.0 L175.0,192.7 L177.5,198.0"/>
<path d="M140.8,110.2 L146.7,108.5 L155.0,107.3 L155.0,108.5 L146.7,110.2 L141.7,111.3 L140.8,110.2"/>
<path d="M138.3,128.5 L139.2,134.3 L144.2,138.5 L145.0,141.0 L142.5,143.5 L137.5,144.3 L136.7,146.0 L139.2,149.3 L138.3,153.5 L140.8,155.2 L146.7,152.7 L150.8,150.2 L151.7,145.2 L148.3,141.8 L145.0,141.0"/>
<path d="M148.3,122.7 L149.2,131.8 L152.5,134.3 L159.2,135.2 L157.5,137.7 L156.7,141.8 L160.0,145.2 L165.0,146.0 L165.8,149.3 L163.3,153.5 L156.7,156.8 L152.5,160.2 L148.3,158.5 L143.3,156.8 L140.8,155.2"/>
<path d="M121.7,151.8 L128.3,153.5 L138.3,155.2 L145.0,158.5 L152.5,160.2" stroke-width="1.6"/>
<path d="M40.0,216.7 L50.0,213.3 L60.0,207.5 L70.0,202.5 L79.2,199.2 L82.5,197.5 L81.7,194.2 L85.8,190.8 L91.7,190.0 L97.5,190.8 L100.0,194.2 L98.3,197.5 L94.2,200.0"/>
<path d="M82.5,197.5 L88.3,199.2 L94.2,200.0 L100.0,199.2 L106.7,200.0 L110.8,201.7 L111.7,205.0"/>
<path d="M90.0,185.8 L93.3,184.2 L100.0,185.0 L105.0,187.5 L107.5,190.0 L103.3,190.8 L98.3,189.2 L92.5,188.3 L90.0,185.8"/>
<path d="M90.0,185.8 L96.7,180.8 L100.0,180.0 L105.0,183.3 L108.3,186.7 L107.5,189.2"/>
<path d="M101.7,191.7 L108.3,192.5 L110.0,195.8 L105.0,196.7"/>
<path d="M105.0,189.2 L109.2,190.0 L108.3,193.3"/>
<path d="M96.7,180.8 L100.0,176.7"/>
<path d="M111.7,205.0 L110.8,200.0 L114.2,196.7 L120.0,195.0 L125.0,196.7 L128.3,194.2 L133.3,195.8 L136.7,195.0 L139.2,198.3 L143.3,203.3 L150.0,205.0 L154.2,204.2 L158.3,207.5 L165.0,209.2 L166.0,210.8"/>
<path d="M166.2,213.8 L173.8,207.5 L177.5,198.0"/>
<path d="M166.2,213.8 L163.8,218.8 L160.0,222.5 L158.8,226.2 L165.0,228.0 L170.0,227.5 L180.0,235.0 L183.0,242.5 L182.5,247.5 L175.0,255.0"/>
<path d="M163.8,218.8 L167.0,219.5 L172.5,219.5 L173.5,223.8 L170.0,227.5"/>
<path d="M50.0,213.0 L53.8,223.8 L62.5,230.0 L68.8,226.2 L76.2,238.0 L83.8,239.5 L90.0,245.0 L102.5,247.0 L107.0,252.0 L106.2,262.0 L118.8,263.8 L126.2,256.2 L131.2,255.0 L130.0,268.8 L140.0,273.8 L148.8,278.0 L152.5,283.8 L163.8,282.5 L166.2,275.5 L161.2,266.2 L166.2,258.8 L175.0,255.0"/>
<path d="M175.0,255.0 L175.5,262.5 L188.8,270.0 L186.2,278.8 L182.5,285.0 L168.8,285.8 L163.8,282.5"/>
<path d="M182.5,285.0 L190.0,288.8 L196.2,298.8 L202.5,296.2 L213.0,302.0"/>
<path d="M200.0,107.2 L205.0,111.0 L210.0,112.2 L216.2,112.8" stroke-width="1.5"/>
<path d="M205.0,111.0 L206.2,102.2 L211.2,98.0 L220.0,96.0 L230.0,95.5 L240.0,95.2 L241.2,102.2 L245.0,107.2 L248.8,106.0 L250.0,101.5 L253.8,99.8 L257.5,103.5 L256.2,111.0"/>
<path d="M257.5,103.5 L258.8,89.8 L263.8,87.8 L272.5,89.2 L282.5,88.5 L287.5,93.5 L293.8,100.5 L302.5,103.0"/>
<path d="M272.5,89.2 L271.2,83.5 L273.8,78.5 L268.8,73.5 L267.5,69.8 L261.2,68.5 L262.5,64.8 L271.2,64.0 L275.0,59.8 L272.5,54.8 L267.5,48.5 L258.8,43.5 L251.2,39.8 L248.8,44.8 L249.5,49.8"/>
<path d="M252.5,38.5 L262.5,39.8 L272.5,43.5 L282.5,46.0 L292.5,44.8 L300.0,42.2 L305.0,43.5 L310.0,47.2 L310.0,56.0 L305.0,59.8 L306.2,61.5 L317.5,62.2 L330.0,67.2 L338.8,68.5 L345.0,64.8 L343.8,59.8 L350.0,58.5 L353.8,61.0 L350.0,64.8 L345.0,64.8"/>
<path d="M345.0,64.8 L346.2,73.5 L340.0,78.5 L336.2,81.0 L337.5,86.0 L340.0,84.0 L350.0,82.2 L357.5,84.8 L365.0,78.5 L375.0,74.8 L383.0,73.5"/>
<path d="M251.2,49.8 L256.2,48.0 L260.0,50.5 L255.5,52.2 L251.2,49.8"/>
<path d="M343.8,43.5 L350.0,41.0 L360.0,39.8 L370.0,43.5 L375.0,48.5 L372.5,52.2 L362.5,53.5 L352.5,51.0 L343.8,43.5"/>
<path d="M375.0,41.0 L383.0,39.8"/>
<path d="M375.0,48.5 L378.8,56.0 L383.0,57.2"/>
<path d="M326.2,38.5 L332.5,42.2 L331.2,47.2"/>
<path d="M332.5,38.5 L336.2,44.8 L337.5,38.5"/>
<path d="M317.5,38.5 L322.5,43.5 L323.8,46.0"/>
<path d="M383.0,73.5 L391.0,68.5 L396.0,64.0 L411.0,64.8 L414.8,67.2 L421.0,71.0 L428.5,77.2 L437.2,78.5 L442.2,76.0 L447.2,82.2 L449.8,86.0"/>
<path d="M396.0,62.2 L408.5,61.8 L413.5,64.8"/>
<path d="M439.8,77.2 L441.0,84.8 L446.0,89.8"/>
<path d="M421.0,53.5 L428.5,52.2 L427.2,57.2 L434.8,57.2 L436.0,62.2 L433.5,66.0 L438.5,68.5 L436.0,71.0 L428.5,69.8 L427.2,73.5 L422.2,71.0 L423.5,67.2 L417.2,67.2 L416.0,62.2 L419.8,59.8 L421.0,53.5"/>
<path d="M441.0,88.5 L446.0,83.5 L457.2,86.0 L466.0,89.8 L468.5,94.0 L463.5,97.2 L457.2,97.2 L449.8,94.0 L441.0,88.5"/>
<path d="M457.2,86.0 L471.0,81.0 L491.0,76.0 L508.5,73.0 L523.5,69.8 L528.5,63.5 L536.0,58.0 L546.0,55.5 L558.5,49.8 L579.0,45.5 L590.0,45.0 L605.0,47.0 L612.0,50.0 L616.0,58.0 L617.0,66.0"/>
<path d="M457.2,97.2 L459.8,108.5 L461.5,116.0 L459.8,123.5 L453.0,129.0 L453.0,134.8 L459.8,139.8 L467.2,144.8 L469.8,149.8 L466.0,156.0 L471.0,161.0 L473.5,171.0 L468.5,179.8 L472.2,189.0"/>
<path d="M472.2,189.0 L473.5,192.8 L478.5,196.5 L482.2,204.0 L482.2,219.0 L476.0,224.0 L471.0,224.0"/>
<path d="M380.8,247.5 L383.3,248.3 L389.2,253.3 L395.0,245.0 L405.8,241.7 L411.7,243.3 L416.7,240.0 L423.3,235.0 L428.3,234.2 L433.3,230.0 L441.7,227.5 L451.7,224.2 L459.2,221.7 L460.0,219.2 L456.7,216.7 L458.3,215.0 L465.0,215.3 L468.3,218.3 L469.2,223.3 L472.0,225.0"/>
<path d="M380.8,247.5 L383.3,253.3 L387.5,258.3 L394.2,262.5 L397.5,266.7 L393.7,272.5 L395.0,277.5 L398.3,283.3 L403.3,290.0 L410.0,291.7 L415.0,295.8 L420.0,300.0 L422.5,302.0"/>
<path d="M482.2,219.0 L489.8,217.8 L493.5,226.5 L503.5,227.8 L513.5,230.2 L518.5,234.0 L528.5,232.8 L532.2,236.5 L526.0,242.8 L532.2,249.0 L539.8,256.5 L544.8,252.8 L551.0,251.5 L556.0,247.8 L568.5,250.2 L576.0,247.8 L579.0,250.2"/>
<path d="M422.5,302.0 L428.5,306.5 L437.2,314.0 L441.0,319.0 L449.8,324.0"/>
<path d="M449.8,324.0 L461.0,325.2 L471.0,324.0 L476.0,316.5 L482.2,311.5 L482.2,307.8 L496.0,310.2 L506.0,312.8 L518.5,316.5 L528.5,319.0 L541.0,316.5 L549.8,320.2 L556.0,314.0 L568.5,312.8 L579.0,312.8"/>
<path d="M549.8,320.2 L547.2,331.5 L546.0,342.0"/>
<path d="M575.0,247.8 L576.2,252.8 L572.5,255.2 L582.5,262.8 L587.5,260.2 L595.0,262.8 L605.0,266.5 L606.2,272.8 L612.5,276.5 L615.0,284.0 L620.8,285.2"/>
<path d="M615.0,284.0 L605.0,285.2 L597.5,294.0 L592.5,296.5 L587.5,305.2 L577.5,311.5 L567.5,314.0 L557.5,312.8 L552.5,315.2"/>
<path d="M552.5,315.2 L547.5,329.0 L546.2,342.0"/>
<path d="M213.0,302.0 L219.2,298.2 L226.8,303.5 L238.0,304.5 L246.8,308.5 L240.5,319.0 L233.0,327.8 L230.5,336.5 L226.8,342.0 L225.5,349.0"/>
<path d="M225.0,363.2 L220.0,369.5 L213.0,375.8 L205.0,374.5 L201.2,379.5 L190.0,392.0 L185.0,405.8 L176.2,414.5 L172.5,422.0 L175.0,428.2 L170.0,430.8 L173.8,433.2 L177.5,425.8 L185.0,422.0 L192.5,420.8 L196.2,423.2 L197.5,434.5 L205.0,442.0 L207.5,445.8"/>
<path d="M223.0,342.0 L225.5,349.5 L223.0,359.5 L224.2,369.5 L235.5,370.8 L245.5,369.5 L253.0,367.0 L255.5,363.2 L261.8,360.8 L266.8,364.5 L260.5,365.8 L258.0,368.2 L265.5,365.8 L278.0,367.0 L288.0,369.5 L295.5,373.2 L299.2,370.8 L308.0,373.2 L313.0,377.0 L315.5,383.2 L323.0,379.5 L324.2,372.0 L330.5,373.2 L340.5,374.5 L350.5,377.0 L355.5,373.2 L368.0,370.8 L383.0,368.2 L393.0,365.8 L396.0,367.0"/>
<path d="M213.0,375.8 L218.0,372.0 L224.2,369.5"/>
<path d="M295.5,373.2 L293.0,382.0 L291.8,388.2 L295.5,393.2 L305.5,395.8 L313.0,399.5 L320.5,398.2 L324.2,402.0 L324.2,414.5 L320.5,417.0 L315.5,413.2 L310.5,417.0 L311.8,422.0 L309.2,424.5"/>
<path d="M324.2,402.0 L335.5,405.8 L345.5,402.0 L353.0,395.8 L368.0,397.0 L378.0,394.5 L384.2,393.2 L385.5,398.2 L389.2,407.0 L396.0,414.5"/>
<path d="M213.0,444.5 L225.5,442.0 L238.0,439.5 L245.5,429.5 L251.8,421.5 L255.5,424.5 L256.8,432.0 L265.5,435.8 L269.2,440.8 L273.0,448.2 L276.8,442.0 L280.5,434.5 L285.5,427.0 L285.5,420.8 L289.2,419.5 L290.5,424.5 L298.0,427.0 L309.2,424.5"/>
<path d="M396.0,414.5 L411.0,415.0 L426.0,417.0 L437.2,418.2 L453.5,421.5 L471.0,419.5 L481.0,413.2 L496.0,410.8 L513.5,407.5 L523.5,402.0"/>
<path d="M523.5,402.0 L532.2,414.5 L534.8,394.5 L532.2,384.5 L541.0,377.0 L539.8,369.5 L532.2,365.8 L538.5,363.2 L546.0,365.8 L556.0,355.8 L551.0,347.0 L548.5,342.0"/>
<path d="M532.2,414.5 L526.0,422.0 L516.0,428.2 L506.0,432.0 L503.5,437.0 L506.5,440.0"/>
<path d="M506.7,440.0 L505.0,447.5 L497.5,450.0 L493.3,455.0 L492.5,463.3 L488.3,467.5 L481.7,465.0 L475.0,461.7 L467.5,456.7 L464.2,462.5 L455.8,465.0 L448.3,465.0"/>
<path d="M437.2,418.2 L426.0,429.5 L432.2,435.8 L429.8,440.8 L433.5,447.0 L436.0,454.5 L433.5,459.5 L428.5,465.8"/>
<path d="M532.2,414.5 L546.0,424.5 L558.5,437.0 L571.0,444.5 L579.0,449.5 L596.0,452.0 L611.0,442.0 L621.0,444.5"/>
<path d="M542.0,475.8 L551.0,477.0 L566.0,479.5 L579.0,480.8 L596.0,482.0 L616.0,492.0"/>
<path d="M393.0,365.8 L394.2,366.3 L396.7,368.3 L401.7,365.8 L405.0,368.3 L405.8,372.5 L410.8,375.0 L415.0,372.5 L415.8,368.3 L412.5,365.0 L409.2,364.2 L412.5,359.2 L410.8,354.2 L406.7,350.0 L403.3,346.7 L406.7,342.5 L415.0,339.2 L423.3,337.5 L426.7,333.3 L428.3,326.7 L431.7,325.0 L436.7,328.3 L440.8,325.8 L440.8,318.7"/>
<path d="M556.0,355.8 L568.5,358.2 L579.0,363.2 L591.0,359.5 L603.5,354.5 L621.0,352.0"/>
<path d="M388.5,462.0 L396.0,459.5 L406.0,457.0 L418.5,452.0"/>
<path d="M67.5,576.5 L75.0,566.5 L87.5,559.0 L97.5,552.8 L102.5,551.0 L107.5,554.0 L120.0,555.2 L121.2,559.0 L126.2,559.0 L125.8,550.2 L127.5,556.5 L135.0,555.2 L137.5,552.0 L143.8,554.0 L140.0,557.8 L137.5,560.2 L147.5,560.2 L148.8,565.2 L157.5,566.5 L165.0,572.8 L168.8,570.2 L176.2,571.5 L182.5,569.0 L192.5,566.5 L195.0,561.5 L205.0,551.5 L213.0,545.2"/>
<path d="M207.5,445.0 L198.3,448.3 L197.5,453.3 L203.3,460.0 L209.2,465.0 L210.8,473.3 L206.7,476.7 L193.3,480.0 L191.7,483.3 L195.8,489.2 L203.3,491.7 L205.8,495.0 L203.3,501.7 L199.2,506.7 L200.0,513.3 L205.0,519.2 L213.3,523.3 L220.8,525.0 L225.8,522.5 L222.5,528.3 L220.0,538.3 L225.0,540.0 L235.0,538.3 L243.3,534.2 L248.3,528.3 L250.0,523.3"/>
<path d="M225.8,522.5 L236.7,526.7 L246.7,530.0"/>
<path d="M211.7,546.7 L220.0,540.8 L230.0,540.0 L240.0,537.5 L246.7,530.8 L251.7,525.0 L257.5,517.5 L265.0,512.0 L273.3,513.3 L283.3,515.8 L293.3,521.7 L302.0,527.5"/>
<path d="M295.5,524.0 L308.0,528.5 L314.2,534.0 L318.0,541.5 L319.2,554.0 L325.5,562.8 L327.5,576.5"/>
<path d="M396.0,459.0 L393.0,461.5 L388.0,466.5 L385.5,476.5 L384.2,486.5 L385.5,499.0 L388.0,514.0 L391.8,524.0 L396.0,531.5"/>
<path d="M389.2,491.5 L393.0,486.5 L395.5,489.0"/>
<path d="M396.0,531.5 L406.0,534.0 L418.5,541.5 L428.5,546.5 L436.0,559.0 L441.0,571.5 L442.2,576.5"/>
<path d="M508.2,542.0 L513.5,546.5 L514.8,552.8 L521.0,555.2 L531.0,554.0 L541.0,557.8 L548.5,562.8 L558.5,569.0 L566.0,574.0 L571.0,576.5"/>
<path d="M531.0,559.0 L543.5,558.5 L546.0,561.0 L536.0,562.8 L531.0,560.2 L531.0,559.0"/>
<path d="M528.5,566.5 L541.0,567.8 L554.8,570.2 L546.0,570.2 L531.0,568.5 L528.5,566.5"/>
<path d="M542.0,538.2 L551.0,544.0 L558.5,551.5 L561.0,561.5 L568.5,570.2 L571.0,576.5"/>
<path d="M418.3,450.0 L420.0,450.8 L426.7,452.5 L427.5,455.8 L432.5,450.8 L438.3,451.7 L444.2,456.7 L440.0,460.8 L430.0,465.0 L429.2,468.3 L432.5,473.3 L436.7,481.7 L441.7,491.7 L445.0,495.8 L447.5,490.0 L453.3,486.7 L455.8,481.7 L457.5,470.0 L455.8,466.7 L448.3,465.0 L430.0,465.0"/>
<path d="M457.5,470.0 L463.3,475.0 L470.0,481.7 L475.0,486.7 L477.5,495.0 L478.3,503.3 L481.7,508.3 L485.0,515.0 L486.7,521.7 L491.7,528.3 L498.3,535.0 L505.0,540.0 L508.3,542.0"/>
<path d="M457.5,479.2 L460.0,479.2 L460.8,486.7 L462.5,495.0 L465.0,503.3 L462.5,503.3 L460.0,495.0 L458.7,486.7 L457.5,479.2"/>
<path d="M459.2,500.0 L460.8,505.0 L465.0,508.3 L463.3,509.2 L460.0,506.7 L459.2,500.0"/>
<path d="M461.7,483.3 L465.0,476.7 L468.3,485.0 L473.3,488.3 L470.0,488.3 L464.2,485.8 L461.7,483.3"/>
<path d="M472.5,499.2 L477.5,504.2 L483.3,510.0 L490.0,516.7 L498.3,518.3 L491.7,518.3 L485.8,514.2 L478.3,506.7 L473.3,500.8 L472.5,499.2"/>
<path d="M476.7,523.3 L481.7,527.5 L486.7,533.3 L489.2,536.7 L486.7,535.8 L481.7,530.8 L477.5,525.0 L476.7,523.3"/>
<path d="M506.7,481.7 L510.8,477.5 L515.8,476.7 L521.7,480.0 L526.7,485.8 L530.8,481.7 L535.0,477.5 L542.0,475.8"/>
<path d="M506.7,481.7 L508.3,488.3 L513.3,496.7 L518.3,506.7 L521.7,515.0 L523.3,521.7 L530.0,526.7 L536.7,533.3 L542.0,538.3"/>
</g>
</g>
<rect x="30" y="36.5" width="590" height="539.5" fill="none" stroke="#fff" stroke-width="1"/>
<g id="axis">
<line x1="620" y1="37.4" x2="623.5" y2="37.4" stroke="#fff" stroke-width="1"/>
<text x="626" y="41.4" class="axl" textLength="17.6" lengthAdjust="spacingAndGlyphs">55N</text>
<line x1="620" y1="82.32" x2="623.5" y2="82.32" stroke="#fff" stroke-width="1"/>
<text x="626" y="86.32" class="axl" textLength="17.6" lengthAdjust="spacingAndGlyphs">54N</text>
<line x1="620" y1="127.24" x2="623.5" y2="127.24" stroke="#fff" stroke-width="1"/>
<text x="626" y="131.24" class="axl" textLength="17.6" lengthAdjust="spacingAndGlyphs">53N</text>
<line x1="620" y1="172.16" x2="623.5" y2="172.16" stroke="#fff" stroke-width="1"/>
<text x="626" y="176.16" class="axl" textLength="17.6" lengthAdjust="spacingAndGlyphs">52N</text>
<line x1="620" y1="217.08" x2="623.5" y2="217.08" stroke="#fff" stroke-width="1"/>
<text x="626" y="221.08" class="axl" textLength="17.6" lengthAdjust="spacingAndGlyphs">51N</text>
<line x1="620" y1="262" x2="623.5" y2="262" stroke="#fff" stroke-width="1"/>
<text x="626" y="266" class="axl" textLength="17.6" lengthAdjust="spacingAndGlyphs">50N</text>
<line x1="620" y1="306.92" x2="623.5" y2="306.92" stroke="#fff" stroke-width="1"/>
<text x="626" y="310.92" class="axl" textLength="17.6" lengthAdjust="spacingAndGlyphs">49N</text>
<line x1="620" y1="351.84" x2="623.5" y2="351.84" stroke="#fff" stroke-width="1"/>
<text x="626" y="355.84" class="axl" textLength="17.6" lengthAdjust="spacingAndGlyphs">48N</text>
<line x1="620" y1="396.76" x2="623.5" y2="396.76" stroke="#fff" stroke-width="1"/>
<text x="626" y="400.76" class="axl" textLength="17.6" lengthAdjust="spacingAndGlyphs">47N</text>
<line x1="620" y1="441.68" x2="623.5" y2="441.68" stroke="#fff" stroke-width="1"/>
<text x="626" y="445.68" class="axl" textLength="17.6" lengthAdjust="spacingAndGlyphs">46N</text>
<line x1="620" y1="486.6" x2="623.5" y2="486.6" stroke="#fff" stroke-width="1"/>
<text x="626" y="490.6" class="axl" textLength="17.6" lengthAdjust="spacingAndGlyphs">45N</text>
<line x1="620" y1="531.52" x2="623.5" y2="531.52" stroke="#fff" stroke-width="1"/>
<text x="626" y="535.52" class="axl" textLength="17.6" lengthAdjust="spacingAndGlyphs">44N</text>
<line x1="32.4" y1="576" x2="32.4" y2="579" stroke="#fff" stroke-width="1"/>
<text x="26.9" y="589" class="axl" textLength="9.6" lengthAdjust="spacingAndGlyphs">2E</text>
<line x1="101.6" y1="576" x2="101.6" y2="579" stroke="#fff" stroke-width="1"/>
<text x="96.1" y="589" class="axl" textLength="9.6" lengthAdjust="spacingAndGlyphs">4E</text>
<line x1="170.8" y1="576" x2="170.8" y2="579" stroke="#fff" stroke-width="1"/>
<text x="165.3" y="589" class="axl" textLength="9.6" lengthAdjust="spacingAndGlyphs">6E</text>
<line x1="240" y1="576" x2="240" y2="579" stroke="#fff" stroke-width="1"/>
<text x="234.5" y="589" class="axl" textLength="9.6" lengthAdjust="spacingAndGlyphs">8E</text>
<line x1="309.2" y1="576" x2="309.2" y2="579" stroke="#fff" stroke-width="1"/>
<text x="301.2" y="589" class="axl" textLength="14.6" lengthAdjust="spacingAndGlyphs">10E</text>
<line x1="378.4" y1="576" x2="378.4" y2="579" stroke="#fff" stroke-width="1"/>
<text x="370.4" y="589" class="axl" textLength="14.6" lengthAdjust="spacingAndGlyphs">12E</text>
<line x1="447.6" y1="576" x2="447.6" y2="579" stroke="#fff" stroke-width="1"/>
<text x="439.6" y="589" class="axl" textLength="14.6" lengthAdjust="spacingAndGlyphs">14E</text>
<line x1="516.8" y1="576" x2="516.8" y2="579" stroke="#fff" stroke-width="1"/>
<text x="508.8" y="589" class="axl" textLength="14.6" lengthAdjust="spacingAndGlyphs">16E</text>
</g>
<g id="cbar">
<rect x="669.4" y="97.6" width="13" height="34.85" fill="#ee82ee" stroke="#ffffff" stroke-opacity="0.55" stroke-width="0.7"/>
<rect x="669.4" y="132.45" width="13" height="34.85" fill="#9932cc" stroke="#ffffff" stroke-opacity="0.55" stroke-width="0.7"/>
<rect x="669.4" y="167.3" width="13" height="34.85" fill="#9370db" stroke="#ffffff" stroke-opacity="0.55" stroke-width="0.7"/>
<rect x="669.4" y="202.15" width="13" height="34.85" fill="#00ffff" stroke="#ffffff" stroke-opacity="0.55" stroke-width="0.7"/>
<rect x="669.4" y="237" width="13" height="34.85" fill="#00bfff" stroke="#ffffff" stroke-opacity="0.55" stroke-width="0.7"/>
<rect x="669.4" y="271.85" width="13" height="34.85" fill="#1e90ff" stroke="#ffffff" stroke-opacity="0.55" stroke-width="0.7"/>
<rect x="669.4" y="306.7" width="13" height="34.85" fill="#0000cd" stroke="#ffffff" stroke-opacity="0.55" stroke-width="0.7"/>
<rect x="669.4" y="341.55" width="13" height="34.85" fill="#483d8b" stroke="#ffffff" stroke-opacity="0.55" stroke-width="0.7"/>
<rect x="669.4" y="376.4" width="13" height="34.85" fill="#2e8b57" stroke="#ffffff" stroke-opacity="0.55" stroke-width="0.7"/>
<rect x="669.4" y="411.25" width="13" height="34.85" fill="#32cd32" stroke="#ffffff" stroke-opacity="0.55" stroke-width="0.7"/>
<rect x="669.4" y="446.1" width="13" height="34.85" fill="#00fa9a" stroke="#ffffff" stroke-opacity="0.55" stroke-width="0.7"/>
<rect x="669.4" y="480.95" width="13" height="34.85" fill="#7cfc00" stroke="#ffffff" stroke-opacity="0.55" stroke-width="0.7"/>
<polygon points="669.4,97.6 682.4,97.6 675.9,62" fill="#c71585" stroke="#ffffff" stroke-opacity="0.55" stroke-width="0.7"/>
<polygon points="669.4,515.8 682.4,515.8 675.9,552.5" fill="#fff"/>
<text x="687" y="102.6" class="cbl">9</text>
<text x="687" y="137.45" class="cbl">7</text>
<text x="687" y="172.3" class="cbl">5</text>
<text x="687" y="207.15" class="cbl">4</text>
<text x="687" y="242" class="cbl">3</text>
<text x="687" y="276.85" class="cbl">2</text>
<text x="687" y="311.7" class="cbl">1.5</text>
<text x="687" y="346.55" class="cbl">1</text>
<text x="687" y="381.4" class="cbl">0.75</text>
<text x="687" y="416.25" class="cbl">0.5</text>
<text x="687" y="451.1" class="cbl">0.25</text>
<text x="687" y="485.95" class="cbl">0.1</text>
<text x="687" y="520.8" class="cbl">0.01</text>
</g>
<text x="8.2" y="15.9" class="sm" textLength="110.6" lengthAdjust="spacing">WRF-NMM model</text>
<text y="25.1" class="ttl"><tspan x="147" textLength="82" lengthAdjust="spacingAndGlyphs">Surface</tspan><tspan x="242.3" textLength="77.5" lengthAdjust="spacingAndGlyphs">accum.</tspan><tspan x="332" textLength="50.5" lengthAdjust="spacingAndGlyphs">snow</tspan><tspan x="397.2" textLength="109.5" lengthAdjust="spacingAndGlyphs">[kg/m^2]</tspan></text>
<text x="128.6" y="25" class="bar">|</text>
<text x="516.4" y="25" class="bar">|</text>
<text x="546" y="16.3" class="sm" textLength="177" lengthAdjust="spacing">Valid: Wed, 15Z16DEC2009</text>
<text x="4.5" y="609" style="font-size:10.6px" textLength="78.5" lengthAdjust="spacingAndGlyphs">GrADS: COLA/IGES</text>
<text y="606.8" class="org"><tspan x="168" textLength="139.5" lengthAdjust="spacing">www.MeteoCenter.eu</tspan><tspan x="325.5" textLength="11" lengthAdjust="spacingAndGlyphs">&#8211;</tspan><tspan x="343.5" textLength="128" lengthAdjust="spacing">JoMa Technologies</tspan></text>
<g id="logo" role="img" aria-label="ONWEER ONLINE - Weer of geen weer, altijd actueel">
<text x="578.6" y="560.6" textLength="137.5" lengthAdjust="spacingAndGlyphs" style="font-size:8.6px;font-weight:bold;font-style:italic;fill:#fff;stroke:#1c1c30;stroke-width:1.6px;paint-order:stroke fill;stroke-linejoin:round">Weer of geen weer, altijd actueel</text>
<g transform="translate(596.5,575.5) skewX(-22)">
<rect x="-19.25" y="-8.3" width="38.5" height="16.6" rx="5.5" ry="5.5" fill="#000" stroke="#26263c" stroke-width="9"/>
<rect x="-19.25" y="-8.3" width="38.5" height="16.6" rx="5.5" ry="5.5" fill="none" stroke="#fff" stroke-width="7"/>
<rect x="-15" y="-3.2" width="31" height="5" rx="1.2" fill="#000" stroke="#cfcfe4" stroke-width="0.8"/>
</g>
<text x="622.6" y="577.1" textLength="89" lengthAdjust="spacingAndGlyphs" style="font-size:14.4px;font-weight:bold;fill:#fff;stroke:#3a3a58;stroke-width:1.7px;paint-order:stroke fill;stroke-linejoin:round">NWEER</text>
<g transform="translate(628,590.9) skewX(-22)">
<rect x="-19.75" y="-7.2" width="39.5" height="14.4" rx="5.5" ry="5.5" fill="#0a0a14" stroke="#e4e4f2" stroke-width="8.4"/>
<rect x="-19.75" y="-7.2" width="39.5" height="14.4" rx="5.5" ry="5.5" fill="none" stroke="#48485f" stroke-width="6"/>
</g>
<text x="653.6" y="594.3" textLength="70.5" lengthAdjust="spacingAndGlyphs" style="font-size:16px;font-weight:bold;fill:#fff;stroke:#4a4a6a;stroke-width:1.5px;paint-order:stroke fill;stroke-linejoin:round">NLINE</text>
<text x="643" y="608.2" textLength="86" lengthAdjust="spacing" style="font-size:10px;fill:#d8d8d8">2009-12-16-05:00</text>
</g>

</svg>
</body></html>
